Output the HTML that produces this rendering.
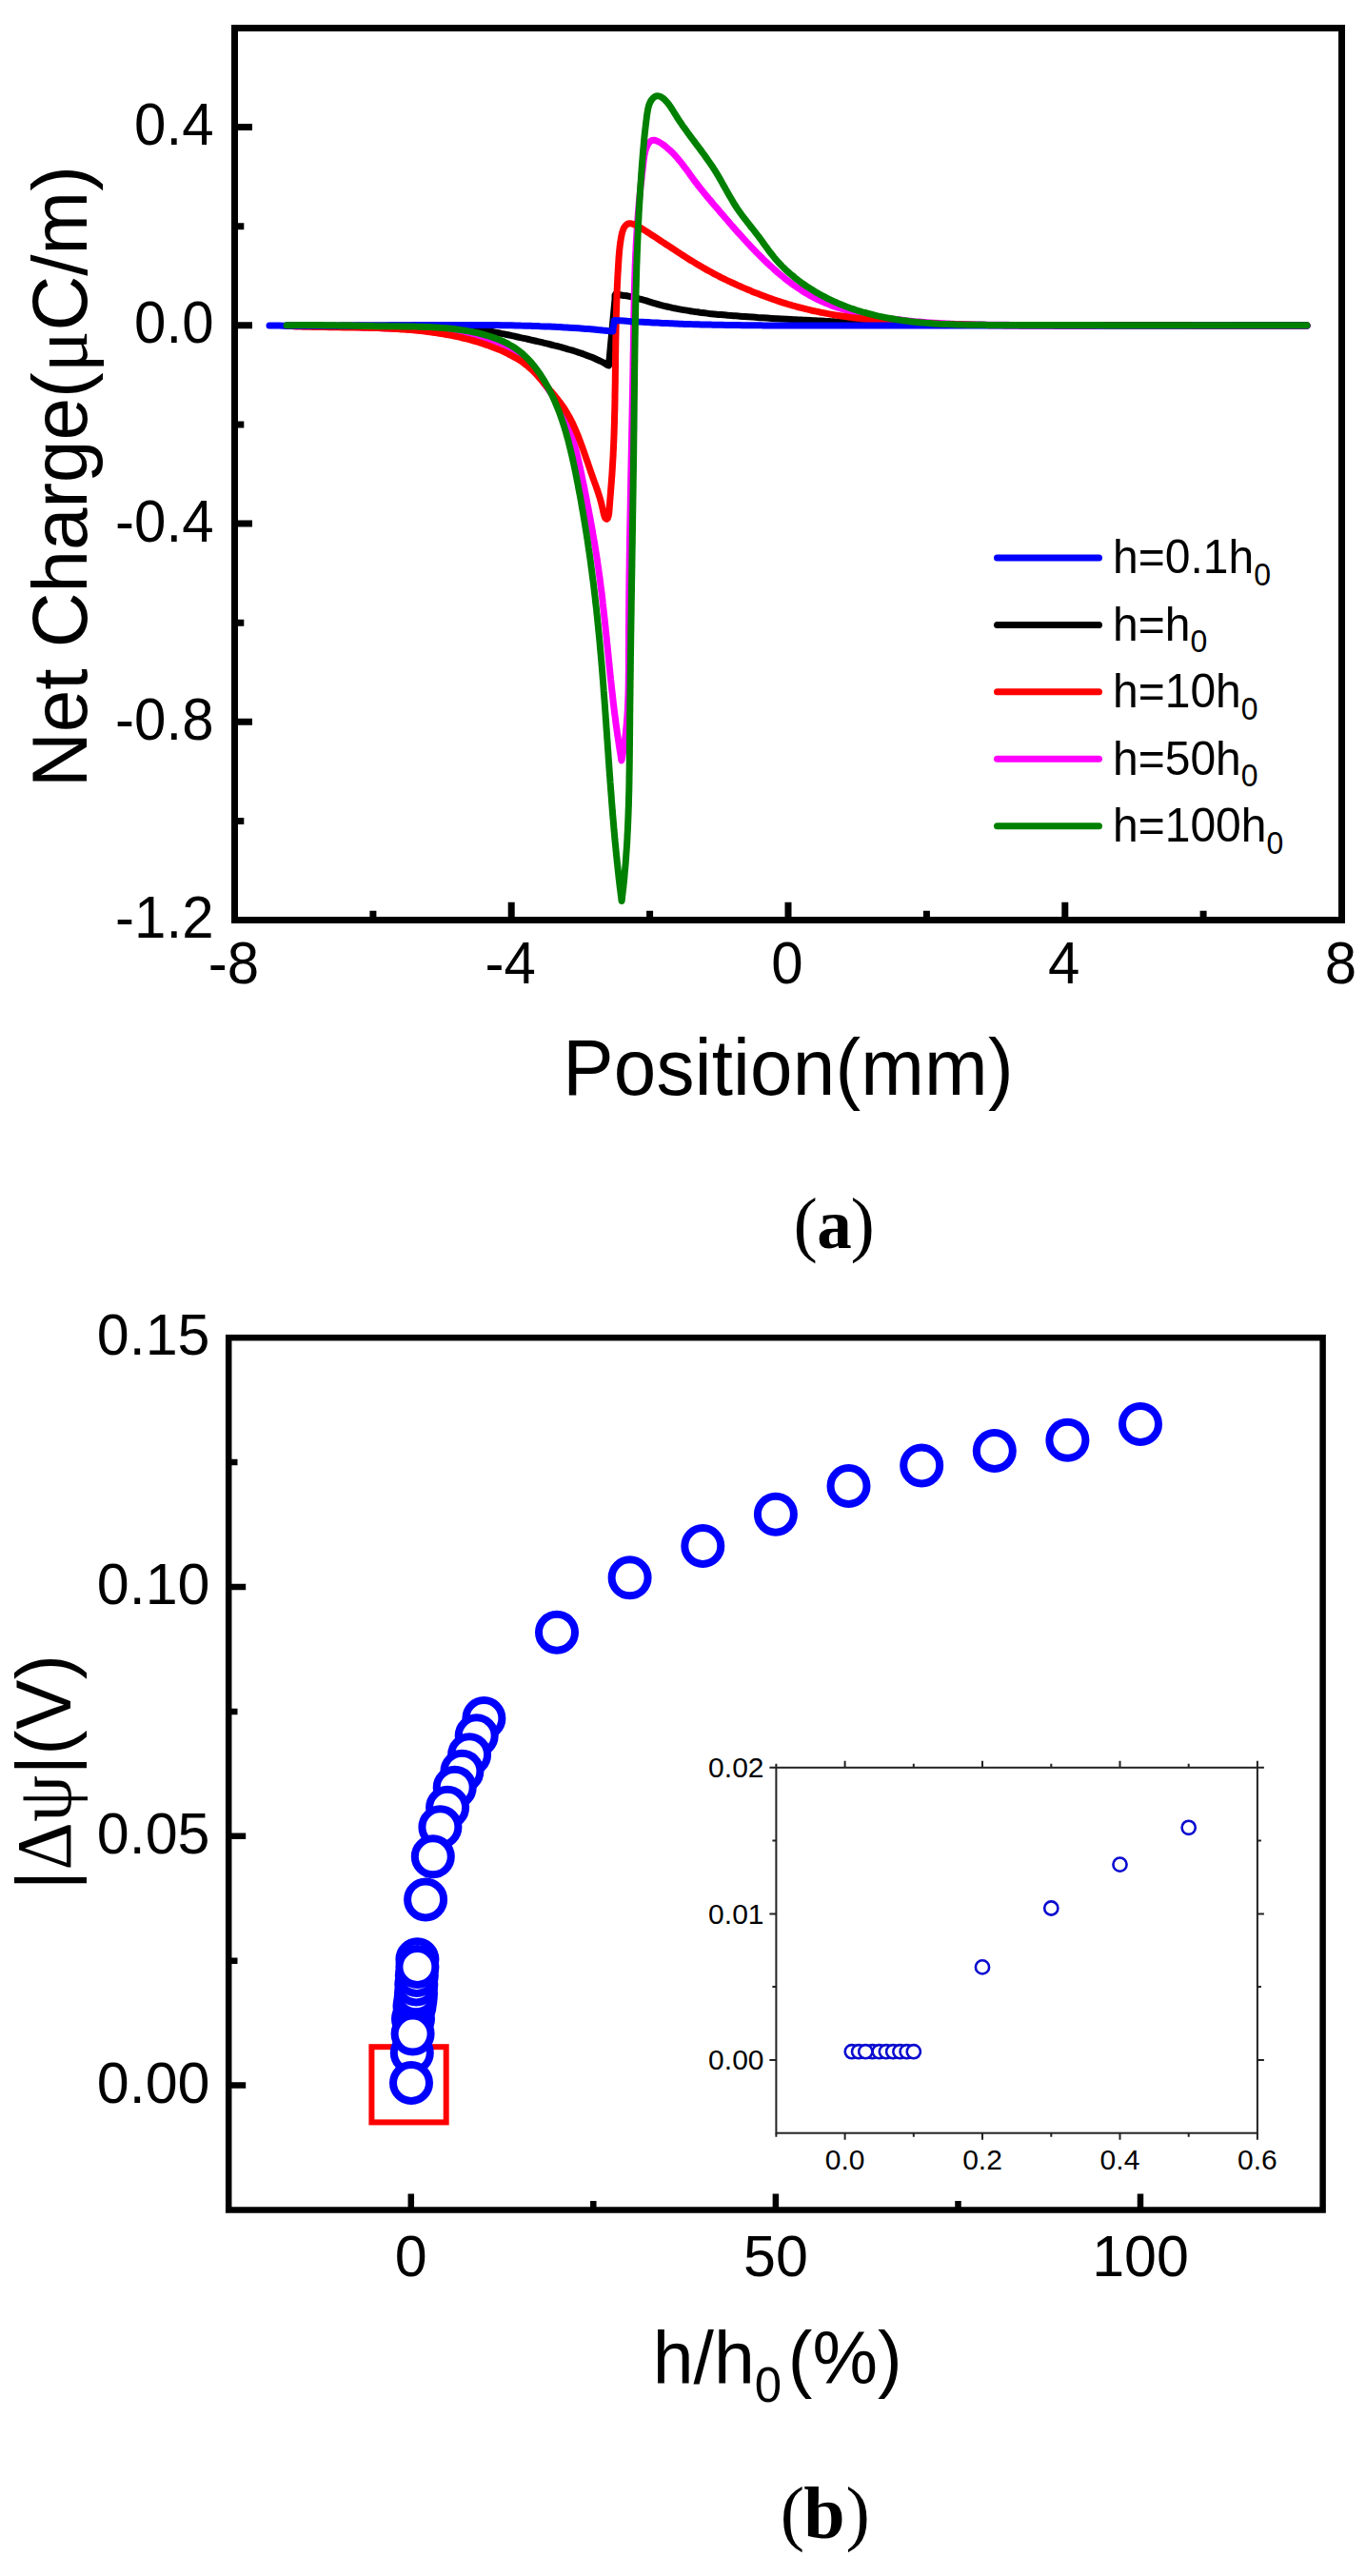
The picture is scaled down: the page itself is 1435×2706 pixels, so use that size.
<!DOCTYPE html>
<html><head><meta charset="utf-8"><title>Figure</title>
<style>html,body{margin:0;padding:0;background:#fff;overflow:hidden}svg{display:block}
</style></head>
<body>
<svg width="1435" height="2706" viewBox="0 0 1435 2706">
<rect x="0" y="0" width="1435" height="2706" fill="#fff"/>
<g fill="none" stroke-width="7" stroke-linejoin="round" stroke-linecap="round">
<path d="M301.0,342.0 C301.9,342.0 304.4,342.0 306.1,342.1 C307.9,342.1 309.6,342.1 311.3,342.1 C313.0,342.1 314.7,342.1 316.4,342.1 C318.1,342.1 319.8,342.2 321.6,342.2 C323.3,342.2 325.0,342.2 326.7,342.2 C328.4,342.2 330.1,342.2 331.8,342.2 C333.6,342.2 335.3,342.2 337.0,342.2 C338.7,342.2 340.4,342.2 342.1,342.2 C343.8,342.2 345.5,342.2 347.3,342.2 C349.0,342.2 350.7,342.2 352.4,342.2 C354.1,342.2 355.8,342.1 357.5,342.1 C359.3,342.1 361.0,342.1 362.7,342.1 C364.4,342.1 366.1,342.1 367.8,342.1 C369.5,342.1 371.3,342.1 373.0,342.1 C374.7,342.1 376.4,342.1 378.1,342.1 C379.8,342.0 381.5,342.0 383.3,342.0 C385.0,342.0 386.7,342.0 388.4,342.0 C390.1,342.0 391.8,342.0 393.6,342.0 C395.3,342.0 397.0,342.0 398.7,342.0 C400.4,342.0 402.1,342.0 403.8,342.0 C405.6,342.0 407.3,342.0 409.0,342.0 C410.7,342.0 412.4,342.0 414.1,342.0 C415.8,342.0 417.6,342.0 419.3,342.0 C421.0,342.0 422.7,342.0 424.4,342.0 C426.1,342.1 427.9,342.1 429.6,342.1 C431.3,342.1 433.0,342.1 434.7,342.1 C436.4,342.2 438.1,342.2 439.9,342.2 C441.6,342.2 443.3,342.3 445.0,342.3 C446.7,342.3 448.4,342.4 450.1,342.4 C451.9,342.5 453.6,342.5 455.3,342.6 C457.0,342.6 458.7,342.7 460.4,342.8 C462.1,342.8 463.8,342.9 465.5,343.0 C467.3,343.1 469.0,343.2 470.7,343.3 C472.4,343.4 474.1,343.5 475.8,343.6 C477.5,343.7 479.2,343.8 480.9,344.0 C482.6,344.1 484.3,344.3 486.0,344.4 C487.7,344.6 489.4,344.7 491.1,344.9 C492.8,345.1 494.5,345.3 496.2,345.5 C497.9,345.7 499.6,345.9 501.3,346.1 C503.0,346.4 504.7,346.6 506.4,346.8 C508.1,347.1 509.8,347.4 511.4,347.6 C513.1,347.9 514.8,348.2 516.5,348.5 C518.2,348.8 519.9,349.1 521.6,349.4 C523.2,349.7 524.9,350.0 526.6,350.4 C528.3,350.7 530.0,351.0 531.7,351.4 C533.3,351.7 535.0,352.0 536.7,352.4 C538.4,352.8 540.1,353.1 541.7,353.5 C543.4,353.8 545.1,354.2 546.8,354.6 C548.4,354.9 550.1,355.3 551.8,355.7 C553.5,356.1 555.1,356.4 556.8,356.8 C558.5,357.2 560.2,357.6 561.9,358.0 C563.5,358.4 565.2,358.7 566.9,359.1 C568.6,359.5 570.2,359.9 571.9,360.3 C573.6,360.7 575.2,361.1 576.9,361.5 C578.6,361.9 580.2,362.3 581.9,362.8 C583.6,363.2 585.2,363.6 586.9,364.0 C588.5,364.5 590.2,364.9 591.8,365.4 C593.5,365.8 595.1,366.3 596.8,366.8 C598.4,367.2 600.1,367.7 601.7,368.2 C603.3,368.7 605.0,369.2 606.6,369.8 C608.2,370.3 609.8,370.8 611.4,371.4 C613.0,372.0 614.7,372.6 616.2,373.2 C617.8,373.8 619.4,374.4 621.0,375.0 C622.6,375.7 624.2,376.3 625.7,377.0 C627.3,377.7 628.8,378.5 630.4,379.2 C631.9,379.9 633.4,380.7 635.0,381.5 C636.5,382.3 638.7,384.5 639.5,384.0 C640.3,383.5 639.8,380.4 640.0,378.6 C640.2,376.9 640.3,375.1 640.5,373.3 C640.7,371.5 640.8,369.7 641.0,367.9 C641.2,366.1 641.3,364.4 641.5,362.6 C641.7,360.8 641.8,359.0 642.0,357.2 C642.2,355.4 642.3,353.6 642.5,351.9 C642.7,350.1 642.8,348.3 643.0,346.5 C643.2,344.7 643.3,342.9 643.5,341.1 C643.7,339.4 643.8,337.6 644.0,335.8 C644.2,334.0 644.3,332.2 644.5,330.4 C644.7,328.6 644.8,326.9 645.0,325.1 C645.2,323.3 645.3,321.5 645.5,319.7 C645.7,317.9 645.8,316.1 646.0,314.4 C646.2,312.6 645.6,309.8 646.5,309.0 C647.4,308.2 649.8,309.5 651.5,309.8 C653.2,310.1 654.9,310.3 656.5,310.6 C658.2,310.8 659.8,311.1 661.5,311.4 C663.1,311.7 664.8,312.1 666.4,312.5 C668.0,312.9 669.7,313.3 671.3,313.8 C672.9,314.2 674.5,314.7 676.1,315.2 C677.8,315.6 679.4,316.2 681.0,316.6 C682.6,317.1 684.2,317.6 685.8,318.1 C687.4,318.6 689.1,319.1 690.7,319.5 C692.3,319.9 693.9,320.4 695.6,320.8 C697.2,321.2 698.8,321.6 700.5,322.0 C702.1,322.4 703.7,322.7 705.4,323.1 C707.0,323.5 708.7,323.8 710.3,324.1 C712.0,324.5 713.6,324.8 715.3,325.1 C716.9,325.4 718.6,325.7 720.2,325.9 C721.9,326.2 723.6,326.5 725.2,326.7 C726.9,327.0 728.5,327.2 730.2,327.5 C731.9,327.7 733.5,327.9 735.2,328.2 C736.9,328.4 738.6,328.6 740.2,328.8 C741.9,329.0 743.6,329.2 745.3,329.4 C746.9,329.5 748.6,329.7 750.3,329.9 C752.0,330.1 753.6,330.2 755.3,330.4 C757.0,330.5 758.7,330.7 760.4,330.8 C762.1,331.0 763.7,331.1 765.4,331.3 C767.1,331.4 768.8,331.5 770.5,331.7 C772.2,331.8 773.8,331.9 775.5,332.0 C777.2,332.2 778.9,332.3 780.6,332.4 C782.3,332.5 784.0,332.7 785.7,332.8 C787.3,332.9 789.0,333.0 790.7,333.1 C792.4,333.2 794.1,333.3 795.8,333.5 C797.5,333.6 799.1,333.7 800.8,333.8 C802.5,333.9 804.2,334.0 805.9,334.1 C807.6,334.2 809.3,334.3 810.9,334.4 C812.6,334.5 814.3,334.6 816.0,334.7 C817.7,334.8 819.4,334.9 821.1,335.0 C822.7,335.1 824.4,335.2 826.1,335.3 C827.8,335.4 829.5,335.5 831.2,335.6 C832.9,335.7 834.6,335.7 836.2,335.8 C837.9,335.9 839.6,336.0 841.3,336.1 C843.0,336.2 844.7,336.3 846.4,336.3 C848.0,336.4 849.7,336.5 851.4,336.6 C853.1,336.7 854.8,336.7 856.5,336.8 C858.2,336.9 859.9,337.0 861.5,337.0 C863.2,337.1 864.9,337.2 866.6,337.3 C868.3,337.3 870.0,337.4 871.7,337.5 C873.3,337.5 875.0,337.6 876.7,337.7 C878.4,337.7 880.1,337.8 881.8,337.9 C883.5,337.9 885.2,338.0 886.8,338.1 C888.5,338.1 890.2,338.2 891.9,338.2 C893.6,338.3 895.3,338.4 897.0,338.4 C898.7,338.5 900.3,338.5 902.0,338.6 C903.7,338.6 905.4,338.7 907.1,338.8 C908.8,338.8 910.5,338.9 912.2,338.9 C913.8,339.0 915.5,339.0 917.2,339.1 C918.9,339.1 920.6,339.2 922.3,339.2 C924.0,339.3 925.6,339.3 927.3,339.4 C929.0,339.4 930.7,339.4 932.4,339.5 C934.1,339.5 935.8,339.6 937.5,339.6 C939.1,339.7 940.8,339.7 942.5,339.8 C944.2,339.8 945.9,339.8 947.6,339.9 C949.3,339.9 951.0,339.9 952.6,340.0 C954.3,340.0 956.0,340.1 957.7,340.1 C959.4,340.1 961.1,340.2 962.8,340.2 C964.5,340.2 966.1,340.3 967.8,340.3 C969.5,340.3 971.2,340.4 972.9,340.4 C974.6,340.4 976.3,340.5 978.0,340.5 C979.6,340.5 981.3,340.6 983.0,340.6 C984.7,340.6 986.4,340.6 988.1,340.7 C989.8,340.7 991.5,340.7 993.2,340.8 C994.8,340.8 996.5,340.8 998.2,340.8 C999.9,340.9 1001.6,340.9 1003.3,340.9 C1005.0,340.9 1006.7,341.0 1008.3,341.0 C1010.0,341.0 1011.7,341.0 1013.4,341.1 C1015.1,341.1 1016.8,341.1 1018.5,341.1 C1020.2,341.1 1021.8,341.2 1023.5,341.2 C1025.2,341.2 1026.9,341.2 1028.6,341.2 C1030.3,341.3 1032.0,341.3 1033.7,341.3 C1035.3,341.3 1037.0,341.3 1038.7,341.4 C1040.4,341.4 1042.1,341.4 1043.8,341.4 C1045.5,341.4 1047.2,341.4 1048.9,341.5 C1050.5,341.5 1052.2,341.5 1053.9,341.5 C1055.6,341.5 1057.3,341.5 1059.0,341.6 C1060.7,341.6 1062.4,341.6 1064.0,341.6 C1065.7,341.6 1067.4,341.6 1069.1,341.6 C1070.8,341.6 1072.5,341.7 1074.2,341.7 C1075.9,341.7 1077.5,341.7 1079.2,341.7 C1080.9,341.7 1082.6,341.7 1084.3,341.7 C1086.0,341.7 1087.7,341.8 1089.4,341.8 C1091.1,341.8 1092.7,341.8 1094.4,341.8 C1096.1,341.8 1097.8,341.8 1099.5,341.8 C1101.2,341.8 1102.9,341.8 1104.6,341.8 C1106.2,341.9 1107.9,341.9 1109.6,341.9 C1111.3,341.9 1113.0,341.9 1114.7,341.9 C1116.4,341.9 1118.1,341.9 1119.8,341.9 C1121.4,341.9 1123.1,341.9 1124.8,341.9 C1126.5,341.9 1128.2,341.9 1129.9,341.9 C1131.6,341.9 1133.3,342.0 1135.0,342.0 C1136.6,342.0 1138.3,342.0 1140.0,342.0 C1141.7,342.0 1143.4,342.0 1145.1,342.0 C1146.8,342.0 1148.5,342.0 1150.1,342.0 C1151.8,342.0 1153.5,342.0 1155.2,342.0 C1156.9,342.0 1158.6,342.0 1160.3,342.0 C1162.0,342.0 1163.7,342.0 1165.3,342.0 C1167.0,342.0 1168.7,342.0 1170.4,342.0 C1172.1,342.0 1173.8,342.0 1175.5,342.0 C1177.2,342.0 1178.8,342.0 1180.5,342.0 C1182.2,342.0 1183.9,342.0 1185.6,342.0 C1187.3,342.0 1189.0,342.0 1190.7,342.0 C1192.4,342.0 1194.0,342.0 1195.7,342.0 C1197.4,342.0 1199.1,342.0 1200.8,342.0 C1202.5,342.0 1204.2,342.0 1205.9,342.0 C1207.6,342.0 1209.2,342.0 1210.9,342.0 C1212.6,342.0 1214.3,342.0 1216.0,342.0 C1217.7,342.0 1219.4,342.0 1221.1,342.0 C1222.7,342.0 1224.4,342.0 1226.1,342.0 C1227.8,342.0 1229.5,342.0 1231.2,342.0 C1232.9,342.0 1234.6,342.0 1236.3,342.0 C1237.9,342.0 1239.6,342.0 1241.3,342.0 C1243.0,342.0 1244.7,342.0 1246.4,342.0 C1248.1,342.0 1249.8,342.0 1251.4,342.0 C1253.1,342.0 1254.8,342.0 1256.5,342.0 C1258.2,342.0 1259.9,342.0 1261.6,342.0 C1263.3,342.0 1265.0,342.0 1266.6,342.0 C1268.3,342.0 1270.0,342.0 1271.7,342.0 C1273.4,342.0 1275.1,342.0 1276.8,342.0 C1278.5,342.0 1280.2,342.0 1281.8,342.0 C1283.5,342.0 1285.2,342.0 1286.9,342.0 C1288.6,342.0 1290.3,342.0 1292.0,342.0 C1293.7,341.9 1295.3,341.9 1297.0,341.9 C1298.7,341.9 1300.4,341.9 1302.1,341.9 C1303.8,341.9 1305.5,341.9 1307.2,341.9 C1308.9,341.9 1310.5,341.9 1312.2,341.9 C1313.9,341.9 1315.6,341.9 1317.3,341.9 C1319.0,341.9 1320.7,341.9 1322.4,341.9 C1324.0,341.9 1325.7,341.9 1327.4,341.9 C1329.1,341.9 1330.8,341.9 1332.5,341.9 C1334.2,341.9 1335.9,341.9 1337.6,341.9 C1339.2,341.9 1340.9,341.9 1342.6,342.0 C1344.3,342.0 1346.0,342.0 1347.7,342.0 C1349.4,342.0 1351.1,342.0 1352.7,342.0 C1354.4,342.0 1356.1,342.0 1357.8,342.0 C1359.5,342.0 1361.2,342.0 1362.9,342.0 C1364.6,342.0 1366.2,342.0 1367.9,342.0 C1369.6,342.0 1372.2,342.0 1373.0,342.0" stroke="#000000"/>
<path d="M301.0,342.2 C301.8,342.2 304.4,342.1 306.1,342.1 C307.8,342.1 309.4,342.1 311.1,342.0 C312.8,342.0 314.5,342.0 316.2,342.0 C317.9,342.0 319.6,342.0 321.3,342.1 C322.9,342.1 324.6,342.1 326.3,342.1 C328.0,342.1 329.7,342.2 331.4,342.2 C333.1,342.2 334.7,342.3 336.4,342.3 C338.1,342.3 339.8,342.4 341.5,342.4 C343.2,342.5 344.8,342.5 346.5,342.6 C348.2,342.6 349.9,342.7 351.6,342.8 C353.3,342.8 354.9,342.9 356.6,342.9 C358.3,343.0 360.0,343.1 361.7,343.1 C363.4,343.2 365.0,343.3 366.7,343.3 C368.4,343.4 370.1,343.5 371.8,343.5 C373.5,343.6 375.1,343.7 376.8,343.8 C378.5,343.8 380.2,343.9 381.9,344.0 C383.6,344.0 385.2,344.1 386.9,344.2 C388.6,344.2 390.3,344.3 392.0,344.3 C393.7,344.4 395.3,344.5 397.0,344.5 C398.7,344.6 400.4,344.6 402.1,344.7 C403.8,344.7 405.5,344.8 407.1,344.8 C408.8,344.9 410.5,344.9 412.2,345.0 C413.9,345.0 415.6,345.1 417.3,345.1 C418.9,345.2 420.6,345.2 422.3,345.2 C424.0,345.3 425.7,345.3 427.4,345.4 C429.1,345.4 430.8,345.5 432.4,345.6 C434.1,345.6 435.8,345.7 437.5,345.8 C439.2,345.8 440.9,345.9 442.6,346.0 C444.2,346.1 445.9,346.1 447.6,346.2 C449.3,346.3 451.0,346.4 452.7,346.5 C454.3,346.6 456.0,346.8 457.7,346.9 C459.4,347.0 461.1,347.2 462.8,347.3 C464.4,347.4 466.1,347.6 467.8,347.8 C469.5,347.9 471.1,348.1 472.8,348.3 C474.5,348.5 476.2,348.7 477.8,348.9 C479.5,349.1 481.2,349.4 482.9,349.6 C484.5,349.9 486.2,350.1 487.9,350.4 C489.5,350.7 491.2,351.0 492.9,351.3 C494.5,351.6 496.2,351.9 497.9,352.3 C499.5,352.6 501.2,353.0 502.9,353.4 C504.5,353.7 506.2,354.1 507.8,354.6 C509.5,355.0 511.1,355.4 512.7,355.9 C514.4,356.4 516.0,356.9 517.6,357.4 C519.2,358.0 520.8,358.5 522.4,359.1 C524.0,359.7 525.5,360.3 527.0,361.0 C528.6,361.7 530.1,362.4 531.6,363.1 C533.1,363.9 534.5,364.6 536.0,365.5 C537.4,366.3 538.8,367.2 540.2,368.1 C541.6,369.0 542.9,369.9 544.2,370.9 C545.5,372.0 546.8,373.0 548.0,374.1 C549.3,375.2 550.5,376.4 551.6,377.6 C552.8,378.8 553.9,380.1 555.0,381.4 C556.1,382.7 557.1,384.1 558.2,385.4 C559.2,386.8 560.2,388.2 561.3,389.5 C562.3,390.9 563.4,392.2 564.4,393.6 C565.5,394.9 566.6,396.3 567.6,397.6 C568.7,398.9 569.7,400.3 570.7,401.6 C571.7,403.0 572.8,404.3 573.8,405.7 C574.8,407.1 575.7,408.5 576.7,409.8 C577.6,411.2 578.6,412.6 579.5,414.0 C580.4,415.5 581.3,416.9 582.2,418.3 C583.0,419.7 583.9,421.2 584.7,422.6 C585.6,424.1 586.4,425.5 587.2,427.0 C588.0,428.5 588.8,430.0 589.5,431.4 C590.3,432.9 591.0,434.4 591.7,435.9 C592.5,437.4 593.2,439.0 593.8,440.5 C594.5,442.0 595.2,443.6 595.8,445.1 C596.5,446.6 597.1,448.2 597.7,449.8 C598.3,451.3 598.9,452.9 599.4,454.5 C600.0,456.0 600.5,457.6 601.0,459.2 C601.6,460.8 602.1,462.4 602.6,464.0 C603.0,465.6 603.5,467.3 604.0,468.9 C604.4,470.5 604.8,472.2 605.3,473.8 C605.7,475.4 606.1,477.1 606.5,478.7 C606.9,480.4 607.3,482.0 607.7,483.7 C608.1,485.3 608.4,487.0 608.8,488.6 C609.2,490.3 609.5,491.9 609.9,493.6 C610.2,495.3 610.6,496.9 610.9,498.6 C611.3,500.3 611.6,501.9 611.9,503.6 C612.3,505.2 612.6,506.9 613.0,508.6 C613.3,510.2 613.6,511.9 614.0,513.5 C614.3,515.2 614.6,516.9 615.0,518.5 C615.3,520.2 615.6,521.8 616.0,523.5 C616.3,525.1 616.6,526.8 616.9,528.5 C617.2,530.1 617.6,531.8 617.9,533.4 C618.2,535.1 618.5,536.7 618.8,538.4 C619.1,540.1 619.5,541.7 619.8,543.4 C620.1,545.0 620.4,546.7 620.7,548.4 C621.0,550.0 621.3,551.7 621.6,553.3 C621.9,555.0 622.2,556.6 622.4,558.3 C622.7,560.0 623.0,561.6 623.3,563.3 C623.6,564.9 623.9,566.6 624.2,568.3 C624.4,569.9 624.7,571.6 625.0,573.2 C625.2,574.9 625.5,576.6 625.8,578.2 C626.0,579.9 626.3,581.5 626.6,583.2 C626.8,584.9 627.1,586.5 627.3,588.2 C627.6,589.8 627.8,591.5 628.1,593.2 C628.3,594.8 628.6,596.5 628.8,598.2 C629.0,599.8 629.3,601.5 629.5,603.2 C629.7,604.8 629.9,606.5 630.2,608.2 C630.4,609.8 630.6,611.5 630.8,613.2 C631.0,614.9 631.2,616.5 631.4,618.2 C631.7,619.9 631.9,621.5 632.1,623.2 C632.3,624.9 632.5,626.6 632.7,628.2 C632.9,629.9 633.1,631.6 633.2,633.3 C633.4,634.9 633.6,636.6 633.8,638.3 C634.0,640.0 634.2,641.6 634.4,643.3 C634.6,645.0 634.7,646.7 634.9,648.3 C635.1,650.0 635.3,651.7 635.5,653.4 C635.6,655.0 635.8,656.7 636.0,658.4 C636.2,660.1 636.3,661.8 636.5,663.4 C636.7,665.1 636.9,666.8 637.0,668.5 C637.2,670.1 637.4,671.8 637.5,673.5 C637.7,675.2 637.9,676.9 638.0,678.5 C638.2,680.2 638.4,681.9 638.6,683.6 C638.7,685.3 638.9,686.9 639.1,688.6 C639.2,690.3 639.4,692.0 639.6,693.7 C639.7,695.3 639.9,697.0 640.1,698.7 C640.2,700.4 640.4,702.1 640.6,703.7 C640.8,705.4 640.9,707.1 641.1,708.8 C641.3,710.4 641.5,712.1 641.6,713.8 C641.8,715.5 642.0,717.2 642.2,718.8 C642.4,720.5 642.5,722.2 642.7,723.9 C642.9,725.6 643.1,727.2 643.3,728.9 C643.5,730.6 643.7,732.3 643.8,733.9 C644.0,735.6 644.2,737.3 644.4,739.0 C644.6,740.6 644.8,742.3 645.0,744.0 C645.2,745.7 645.4,747.3 645.6,749.0 C645.8,750.7 646.1,752.4 646.3,754.0 C646.5,755.7 646.7,757.4 646.9,759.0 C647.1,760.7 647.4,762.4 647.6,764.0 C647.8,765.7 648.1,767.4 648.3,769.1 C648.5,770.7 648.8,772.4 649.0,774.1 C649.3,775.7 649.5,777.4 649.8,779.1 C650.0,780.7 650.3,782.4 650.5,784.0 C650.8,785.7 651.0,787.4 651.3,789.0 C651.6,790.7 651.9,792.4 652.1,794.0 C652.4,795.7 652.7,799.0 653.0,799.0 C653.3,799.0 653.6,795.7 653.9,794.1 C654.2,792.4 654.5,790.8 654.8,789.1 C655.1,787.5 655.3,785.8 655.6,784.2 C655.8,782.5 656.0,780.9 656.2,779.2 C656.5,777.5 656.7,775.9 656.9,774.2 C657.1,772.6 657.3,770.9 657.4,769.3 C657.6,767.6 657.8,765.9 657.9,764.3 C658.1,762.6 658.2,760.9 658.4,759.3 C658.5,757.6 658.6,755.9 658.8,754.3 C658.9,752.6 659.0,750.9 659.1,749.3 C659.2,747.6 659.3,745.9 659.4,744.3 C659.5,742.6 659.5,740.9 659.6,739.2 C659.7,737.6 659.8,735.9 659.8,734.2 C659.9,732.5 659.9,730.9 660.0,729.2 C660.0,727.5 660.1,725.8 660.1,724.2 C660.2,722.5 660.2,720.8 660.2,719.1 C660.2,717.5 660.3,715.8 660.3,714.1 C660.3,712.4 660.3,710.8 660.3,709.1 C660.4,707.4 660.4,705.7 660.4,704.0 C660.4,702.4 660.4,700.7 660.4,699.0 C660.4,697.3 660.4,695.6 660.4,694.0 C660.4,692.3 660.4,690.6 660.4,688.9 C660.4,687.2 660.4,685.6 660.4,683.9 C660.4,682.2 660.5,680.5 660.5,678.8 C660.5,677.2 660.5,675.5 660.5,673.8 C660.5,672.1 660.5,670.5 660.5,668.8 C660.5,667.1 660.5,665.4 660.5,663.7 C660.5,662.1 660.5,660.4 660.5,658.7 C660.5,657.0 660.5,655.4 660.6,653.7 C660.6,652.0 660.6,650.3 660.6,648.6 C660.6,647.0 660.6,645.3 660.6,643.6 C660.6,641.9 660.7,640.3 660.7,638.6 C660.7,636.9 660.7,635.2 660.7,633.6 C660.7,631.9 660.7,630.2 660.8,628.5 C660.8,626.9 660.8,625.2 660.8,623.5 C660.8,621.8 660.8,620.1 660.9,618.5 C660.9,616.8 660.9,615.1 660.9,613.4 C660.9,611.8 661.0,610.1 661.0,608.4 C661.0,606.7 661.0,605.1 661.0,603.4 C661.1,601.7 661.1,600.0 661.1,598.4 C661.1,596.7 661.2,595.0 661.2,593.3 C661.2,591.7 661.2,590.0 661.2,588.3 C661.3,586.7 661.3,585.0 661.3,583.3 C661.3,581.6 661.4,580.0 661.4,578.3 C661.4,576.6 661.4,574.9 661.5,573.3 C661.5,571.6 661.5,569.9 661.5,568.2 C661.6,566.6 661.6,564.9 661.6,563.2 C661.7,561.5 661.7,559.9 661.7,558.2 C661.7,556.5 661.8,554.8 661.8,553.2 C661.8,551.5 661.9,549.8 661.9,548.2 C661.9,546.5 661.9,544.8 662.0,543.1 C662.0,541.5 662.0,539.8 662.1,538.1 C662.1,536.4 662.1,534.8 662.2,533.1 C662.2,531.4 662.2,529.7 662.3,528.1 C662.3,526.4 662.3,524.7 662.3,523.1 C662.4,521.4 662.4,519.7 662.4,518.0 C662.5,516.4 662.5,514.7 662.5,513.0 C662.6,511.3 662.6,509.7 662.6,508.0 C662.7,506.3 662.7,504.6 662.7,503.0 C662.8,501.3 662.8,499.6 662.8,498.0 C662.9,496.3 662.9,494.6 662.9,492.9 C663.0,491.3 663.0,489.6 663.0,487.9 C663.1,486.2 663.1,484.6 663.1,482.9 C663.2,481.2 663.2,479.5 663.2,477.9 C663.3,476.2 663.3,474.5 663.3,472.9 C663.4,471.2 663.4,469.5 663.4,467.8 C663.5,466.2 663.5,464.5 663.5,462.8 C663.6,461.1 663.6,459.5 663.6,457.8 C663.7,456.1 663.7,454.4 663.7,452.8 C663.8,451.1 663.8,449.4 663.8,447.7 C663.9,446.1 663.9,444.4 663.9,442.7 C664.0,441.0 664.0,439.4 664.0,437.7 C664.1,436.0 664.1,434.3 664.1,432.7 C664.2,431.0 664.2,429.3 664.2,427.6 C664.3,426.0 664.3,424.3 664.3,422.6 C664.3,420.9 664.4,419.3 664.4,417.6 C664.4,415.9 664.5,414.2 664.5,412.6 C664.5,410.9 664.6,409.2 664.6,407.5 C664.6,405.9 664.7,404.2 664.7,402.5 C664.7,400.8 664.7,399.2 664.8,397.5 C664.8,395.8 664.8,394.1 664.9,392.5 C664.9,390.8 664.9,389.1 665.0,387.4 C665.0,385.7 665.0,384.1 665.0,382.4 C665.1,380.7 665.1,379.0 665.1,377.4 C665.1,375.7 665.2,374.0 665.2,372.3 C665.2,370.6 665.3,369.0 665.3,367.3 C665.3,365.6 665.3,363.9 665.4,362.3 C665.4,360.6 665.4,358.9 665.4,357.2 C665.5,355.5 665.5,353.9 665.5,352.2 C665.5,350.5 665.6,348.8 665.6,347.1 C665.6,345.5 665.6,343.8 665.7,342.1 C665.7,340.4 665.7,338.7 665.8,337.1 C665.8,335.4 665.8,333.7 665.8,332.0 C665.9,330.4 665.9,328.7 665.9,327.0 C666.0,325.3 666.0,323.6 666.0,322.0 C666.1,320.3 666.1,318.6 666.1,316.9 C666.2,315.2 666.2,313.6 666.2,311.9 C666.3,310.2 666.3,308.5 666.4,306.9 C666.4,305.2 666.4,303.5 666.5,301.8 C666.5,300.2 666.6,298.5 666.6,296.8 C666.7,295.1 666.7,293.5 666.8,291.8 C666.8,290.1 666.9,288.4 666.9,286.8 C667.0,285.1 667.1,283.4 667.1,281.7 C667.2,280.1 667.2,278.4 667.3,276.7 C667.4,275.0 667.4,273.4 667.5,271.7 C667.6,270.0 667.7,268.3 667.7,266.7 C667.8,265.0 667.9,263.3 668.0,261.7 C668.0,260.0 668.1,258.3 668.2,256.7 C668.3,255.0 668.4,253.3 668.5,251.6 C668.6,250.0 668.7,248.3 668.8,246.6 C668.9,245.0 669.0,243.3 669.1,241.6 C669.2,240.0 669.3,238.3 669.4,236.7 C669.5,235.0 669.7,233.3 669.8,231.7 C669.9,230.0 670.0,228.3 670.2,226.7 C670.3,225.0 670.4,223.4 670.6,221.7 C670.7,220.0 670.8,218.4 671.0,216.7 C671.1,215.1 671.3,213.4 671.4,211.8 C671.6,210.1 671.8,208.4 671.9,206.8 C672.1,205.1 672.2,203.5 672.4,201.8 C672.6,200.2 672.8,198.5 672.9,196.9 C673.1,195.2 673.3,193.5 673.5,191.9 C673.7,190.2 673.9,188.5 674.1,186.9 C674.2,185.2 674.4,183.5 674.6,181.8 C674.8,180.1 675.0,178.5 675.2,176.8 C675.4,175.1 675.6,173.4 675.8,171.6 C676.0,169.9 676.2,168.2 676.5,166.5 C676.7,164.8 676.9,163.0 677.3,161.4 C677.6,159.7 678.0,158.0 678.6,156.4 C679.2,154.8 679.8,153.1 680.7,151.7 C681.6,150.3 682.6,148.8 683.8,148.1 C684.9,147.3 686.3,147.2 687.6,147.3 C689.0,147.5 690.5,148.2 691.9,148.9 C693.4,149.6 694.9,150.7 696.3,151.7 C697.7,152.6 699.0,153.7 700.3,154.8 C701.6,155.9 702.9,157.0 704.1,158.1 C705.4,159.3 706.6,160.5 707.7,161.7 C708.9,162.9 710.0,164.2 711.1,165.4 C712.2,166.7 713.3,168.0 714.3,169.3 C715.4,170.6 716.4,171.9 717.5,173.3 C718.5,174.6 719.5,176.0 720.5,177.3 C721.5,178.7 722.5,180.1 723.5,181.4 C724.5,182.8 725.4,184.2 726.4,185.5 C727.4,186.9 728.4,188.3 729.4,189.6 C730.4,191.0 731.5,192.3 732.5,193.6 C733.5,195.0 734.6,196.3 735.6,197.6 C736.6,198.9 737.7,200.3 738.8,201.6 C739.8,202.9 740.9,204.2 742.0,205.5 C743.0,206.8 744.1,208.1 745.2,209.3 C746.3,210.6 747.3,211.9 748.4,213.2 C749.5,214.5 750.6,215.7 751.7,217.0 C752.8,218.3 753.9,219.5 755.0,220.8 C756.0,222.1 757.1,223.4 758.2,224.6 C759.3,225.9 760.4,227.2 761.5,228.4 C762.6,229.7 763.7,230.9 764.8,232.2 C765.8,233.5 766.9,234.7 768.0,236.0 C769.1,237.2 770.2,238.5 771.3,239.7 C772.4,241.0 773.5,242.2 774.6,243.5 C775.7,244.7 776.8,245.9 778.0,247.2 C779.1,248.4 780.2,249.7 781.3,250.9 C782.4,252.1 783.6,253.3 784.7,254.6 C785.8,255.8 787.0,257.0 788.1,258.2 C789.3,259.4 790.4,260.6 791.6,261.9 C792.7,263.1 793.9,264.3 795.1,265.5 C796.2,266.7 797.4,267.8 798.6,269.0 C799.8,270.2 801.0,271.4 802.2,272.6 C803.4,273.8 804.6,274.9 805.9,276.1 C807.1,277.2 808.3,278.4 809.6,279.5 C810.8,280.7 812.1,281.8 813.3,283.0 C814.6,284.1 815.9,285.2 817.1,286.3 C818.4,287.4 819.7,288.5 821.0,289.6 C822.3,290.6 823.6,291.7 824.9,292.8 C826.3,293.8 827.6,294.8 828.9,295.9 C830.3,296.9 831.6,297.9 833.0,298.9 C834.3,299.9 835.7,300.8 837.1,301.8 C838.5,302.7 839.9,303.7 841.3,304.6 C842.7,305.5 844.1,306.4 845.5,307.3 C847.0,308.1 848.4,309.0 849.8,309.8 C851.3,310.6 852.7,311.4 854.2,312.2 C855.7,313.0 857.2,313.7 858.7,314.5 C860.2,315.2 861.7,315.9 863.2,316.6 C864.7,317.3 866.2,317.9 867.8,318.6 C869.3,319.2 870.8,319.8 872.4,320.4 C873.9,321.0 875.5,321.5 877.1,322.1 C878.7,322.6 880.2,323.1 881.8,323.7 C883.4,324.2 885.0,324.6 886.6,325.1 C888.2,325.6 889.8,326.0 891.5,326.5 C893.1,326.9 894.7,327.3 896.3,327.7 C898.0,328.1 899.6,328.5 901.2,328.9 C902.9,329.2 904.5,329.6 906.2,329.9 C907.8,330.3 909.5,330.6 911.1,330.9 C912.8,331.2 914.4,331.5 916.1,331.8 C917.7,332.1 919.4,332.4 921.1,332.7 C922.7,332.9 924.4,333.2 926.0,333.5 C927.7,333.7 929.4,334.0 931.0,334.2 C932.7,334.4 934.4,334.7 936.0,334.9 C937.7,335.1 939.4,335.3 941.0,335.5 C942.7,335.7 944.4,335.9 946.0,336.1 C947.7,336.3 949.4,336.5 951.0,336.7 C952.7,336.9 954.4,337.0 956.0,337.2 C957.7,337.4 959.4,337.5 961.0,337.7 C962.7,337.8 964.4,338.0 966.0,338.1 C967.7,338.3 969.4,338.4 971.0,338.5 C972.7,338.6 974.4,338.8 976.0,338.9 C977.7,339.0 979.4,339.1 981.1,339.2 C982.7,339.3 984.4,339.4 986.1,339.5 C987.7,339.6 989.4,339.7 991.1,339.8 C992.8,339.9 994.4,340.0 996.1,340.0 C997.8,340.1 999.4,340.2 1001.1,340.2 C1002.8,340.3 1004.5,340.4 1006.1,340.4 C1007.8,340.5 1009.5,340.6 1011.2,340.6 C1012.8,340.7 1014.5,340.7 1016.2,340.8 C1017.8,340.8 1019.5,340.8 1021.2,340.9 C1022.9,340.9 1024.5,341.0 1026.2,341.0 C1027.9,341.0 1029.6,341.0 1031.2,341.1 C1032.9,341.1 1034.6,341.1 1036.3,341.2 C1037.9,341.2 1039.6,341.2 1041.3,341.2 C1043.0,341.2 1044.6,341.3 1046.3,341.3 C1048.0,341.3 1049.7,341.3 1051.3,341.3 C1053.0,341.3 1054.7,341.3 1056.4,341.3 C1058.0,341.3 1059.7,341.4 1061.4,341.4 C1063.1,341.4 1064.7,341.4 1066.4,341.4 C1068.1,341.4 1069.8,341.4 1071.4,341.4 C1073.1,341.4 1074.8,341.4 1076.5,341.4 C1078.1,341.4 1079.8,341.4 1081.5,341.4 C1083.2,341.4 1084.8,341.4 1086.5,341.4 C1088.2,341.4 1089.9,341.4 1091.5,341.5 C1093.2,341.5 1094.9,341.5 1096.6,341.5 C1098.2,341.5 1099.9,341.5 1101.6,341.5 C1103.3,341.5 1104.9,341.5 1106.6,341.5 C1108.3,341.5 1110.0,341.5 1111.7,341.5 C1113.3,341.5 1115.0,341.5 1116.7,341.5 C1118.4,341.5 1120.0,341.5 1121.7,341.5 C1123.4,341.5 1125.1,341.5 1126.7,341.5 C1128.4,341.5 1130.1,341.5 1131.8,341.5 C1133.4,341.6 1135.1,341.6 1136.8,341.6 C1138.5,341.6 1140.1,341.6 1141.8,341.6 C1143.5,341.6 1145.2,341.6 1146.8,341.6 C1148.5,341.6 1150.2,341.6 1151.9,341.6 C1153.5,341.6 1155.2,341.6 1156.9,341.6 C1158.6,341.6 1160.2,341.6 1161.9,341.6 C1163.6,341.6 1165.3,341.6 1166.9,341.6 C1168.6,341.6 1170.3,341.6 1172.0,341.6 C1173.6,341.6 1175.3,341.6 1177.0,341.6 C1178.7,341.6 1180.3,341.6 1182.0,341.7 C1183.7,341.7 1185.4,341.7 1187.0,341.7 C1188.7,341.7 1190.4,341.7 1192.1,341.7 C1193.7,341.7 1195.4,341.7 1197.1,341.7 C1198.8,341.7 1200.4,341.7 1202.1,341.7 C1203.8,341.7 1205.5,341.7 1207.1,341.7 C1208.8,341.7 1210.5,341.7 1212.2,341.7 C1213.8,341.7 1215.5,341.7 1217.2,341.7 C1218.9,341.7 1220.5,341.7 1222.2,341.7 C1223.9,341.7 1225.6,341.7 1227.3,341.7 C1228.9,341.7 1230.6,341.7 1232.3,341.7 C1234.0,341.7 1235.6,341.8 1237.3,341.8 C1239.0,341.8 1240.7,341.8 1242.3,341.8 C1244.0,341.8 1245.7,341.8 1247.4,341.8 C1249.0,341.8 1250.7,341.8 1252.4,341.8 C1254.1,341.8 1255.7,341.8 1257.4,341.8 C1259.1,341.8 1260.8,341.8 1262.4,341.8 C1264.1,341.8 1265.8,341.8 1267.5,341.8 C1269.1,341.8 1270.8,341.8 1272.5,341.8 C1274.2,341.8 1275.8,341.8 1277.5,341.8 C1279.2,341.8 1280.9,341.8 1282.5,341.8 C1284.2,341.8 1285.9,341.8 1287.6,341.8 C1289.2,341.8 1290.9,341.8 1292.6,341.9 C1294.3,341.9 1295.9,341.9 1297.6,341.9 C1299.3,341.9 1301.0,341.9 1302.6,341.9 C1304.3,341.9 1306.0,341.9 1307.7,341.9 C1309.3,341.9 1311.0,341.9 1312.7,341.9 C1314.4,341.9 1316.0,341.9 1317.7,341.9 C1319.4,341.9 1321.1,341.9 1322.7,341.9 C1324.4,341.9 1326.1,341.9 1327.8,341.9 C1329.4,341.9 1331.1,341.9 1332.8,341.9 C1334.5,341.9 1336.1,341.9 1337.8,341.9 C1339.5,341.9 1341.2,341.9 1342.8,341.9 C1344.5,341.9 1346.2,341.9 1347.9,342.0 C1349.5,342.0 1351.2,342.0 1352.9,342.0 C1354.6,342.0 1356.2,342.0 1357.9,342.0 C1359.6,342.0 1361.3,342.0 1362.9,342.0 C1364.6,342.0 1366.3,342.0 1368.0,342.0 C1369.6,342.0 1372.2,342.0 1373.0,342.0" stroke="#ff00ff"/>
<path d="M301.0,342.4 C301.8,342.4 304.3,342.6 306.0,342.6 C307.6,342.7 309.3,342.8 311.0,342.9 C312.6,342.9 314.3,343.0 315.9,343.0 C317.6,343.1 319.3,343.2 320.9,343.2 C322.6,343.3 324.3,343.3 325.9,343.3 C327.6,343.4 329.3,343.4 331.0,343.5 C332.6,343.5 334.3,343.5 336.0,343.6 C337.7,343.6 339.3,343.6 341.0,343.6 C342.7,343.7 344.4,343.7 346.1,343.7 C347.7,343.7 349.4,343.8 351.1,343.8 C352.8,343.8 354.5,343.8 356.1,343.8 C357.8,343.9 359.5,343.9 361.2,343.9 C362.9,343.9 364.5,344.0 366.2,344.0 C367.9,344.0 369.6,344.0 371.3,344.1 C373.0,344.1 374.6,344.1 376.3,344.1 C378.0,344.2 379.7,344.2 381.4,344.2 C383.1,344.3 384.7,344.3 386.4,344.3 C388.1,344.4 389.8,344.4 391.5,344.5 C393.2,344.5 394.8,344.6 396.5,344.6 C398.2,344.7 399.9,344.8 401.6,344.8 C403.2,344.9 404.9,344.9 406.6,345.0 C408.3,345.1 410.0,345.2 411.6,345.3 C413.3,345.4 415.0,345.4 416.7,345.5 C418.3,345.6 420.0,345.7 421.7,345.9 C423.4,346.0 425.0,346.1 426.7,346.2 C428.4,346.3 430.0,346.5 431.7,346.6 C433.4,346.8 435.0,346.9 436.7,347.1 C438.4,347.2 440.0,347.4 441.7,347.6 C443.4,347.8 445.0,347.9 446.7,348.1 C448.3,348.3 450.0,348.5 451.6,348.8 C453.3,349.0 455.0,349.2 456.6,349.4 C458.3,349.7 459.9,349.9 461.6,350.2 C463.2,350.4 464.8,350.7 466.5,351.0 C468.1,351.3 469.8,351.6 471.4,351.9 C473.0,352.2 474.7,352.5 476.3,352.8 C477.9,353.2 479.6,353.5 481.2,353.9 C482.8,354.2 484.4,354.6 486.1,355.0 C487.7,355.4 489.3,355.8 490.9,356.2 C492.5,356.6 494.1,357.0 495.7,357.5 C497.4,357.9 499.0,358.4 500.6,358.9 C502.2,359.3 503.8,359.8 505.4,360.3 C507.0,360.8 508.5,361.4 510.1,361.9 C511.7,362.5 513.3,363.0 514.9,363.6 C516.5,364.2 518.1,364.8 519.6,365.4 C521.2,366.0 522.8,366.6 524.3,367.3 C525.9,367.9 527.4,368.6 529.0,369.3 C530.5,370.0 532.0,370.7 533.5,371.5 C535.0,372.2 536.5,373.0 538.0,373.8 C539.5,374.6 540.9,375.4 542.4,376.3 C543.8,377.1 545.2,378.0 546.6,378.9 C548.0,379.8 549.4,380.8 550.7,381.8 C552.0,382.7 553.3,383.8 554.6,384.8 C555.9,385.9 557.2,387.0 558.4,388.1 C559.6,389.2 560.8,390.4 561.9,391.6 C563.1,392.8 564.2,394.0 565.3,395.3 C566.4,396.5 567.5,397.8 568.6,399.1 C569.7,400.4 570.8,401.7 571.9,403.0 C572.9,404.2 574.0,405.5 575.1,406.8 C576.2,408.1 577.3,409.4 578.4,410.7 C579.5,411.9 580.6,413.2 581.7,414.5 C582.7,415.8 583.8,417.1 584.9,418.4 C585.9,419.7 587.0,421.0 588.0,422.3 C589.0,423.7 590.0,425.0 590.9,426.4 C591.9,427.8 592.8,429.1 593.7,430.5 C594.6,432.0 595.4,433.4 596.3,434.8 C597.1,436.3 597.9,437.7 598.7,439.2 C599.5,440.7 600.2,442.1 601.0,443.6 C601.7,445.1 602.4,446.6 603.1,448.2 C603.8,449.7 604.5,451.2 605.2,452.8 C605.8,454.3 606.5,455.9 607.1,457.4 C607.7,459.0 608.3,460.6 608.9,462.1 C609.6,463.7 610.1,465.3 610.7,466.9 C611.3,468.5 611.9,470.1 612.4,471.7 C613.0,473.2 613.6,474.8 614.1,476.4 C614.7,478.0 615.2,479.6 615.7,481.2 C616.3,482.8 616.8,484.4 617.4,486.0 C617.9,487.6 618.4,489.2 619.0,490.8 C619.5,492.4 620.1,494.0 620.6,495.6 C621.2,497.2 621.7,498.7 622.3,500.3 C622.8,501.9 623.4,503.4 624.0,505.0 C624.5,506.5 625.1,508.1 625.7,509.7 C626.2,511.2 626.8,512.8 627.3,514.3 C627.9,515.9 628.4,517.5 628.9,519.1 C629.4,520.6 629.9,522.2 630.4,523.8 C630.8,525.4 631.3,527.1 631.7,528.7 C632.1,530.3 632.5,532.0 632.9,533.7 C633.3,535.4 633.6,537.1 634.0,538.8 C634.5,540.5 635.0,542.9 635.6,543.9 C636.3,545.0 637.2,545.6 637.8,545.2 C638.5,544.7 639.1,542.8 639.4,541.3 C639.8,539.8 639.9,537.8 640.0,536.1 C640.2,534.3 640.3,532.5 640.4,530.7 C640.6,529.0 640.7,527.2 640.8,525.5 C641.0,523.8 641.1,522.1 641.2,520.3 C641.4,518.6 641.5,516.9 641.6,515.3 C641.8,513.6 641.9,511.9 642.0,510.2 C642.2,508.6 642.3,506.9 642.4,505.2 C642.5,503.6 642.6,501.9 642.8,500.3 C642.9,498.6 643.0,496.9 643.1,495.3 C643.2,493.6 643.3,492.0 643.4,490.3 C643.5,488.7 643.6,487.0 643.7,485.3 C643.8,483.7 643.9,482.0 644.0,480.4 C644.1,478.7 644.2,477.0 644.2,475.4 C644.3,473.7 644.4,472.1 644.5,470.4 C644.5,468.7 644.6,467.1 644.7,465.4 C644.8,463.7 644.8,462.1 644.9,460.4 C644.9,458.7 645.0,457.1 645.1,455.4 C645.1,453.7 645.2,452.1 645.2,450.4 C645.3,448.7 645.3,447.0 645.4,445.4 C645.4,443.7 645.5,442.0 645.5,440.4 C645.6,438.7 645.6,437.0 645.6,435.3 C645.7,433.7 645.7,432.0 645.8,430.3 C645.8,428.6 645.8,427.0 645.9,425.3 C645.9,423.6 645.9,421.9 646.0,420.3 C646.0,418.6 646.0,416.9 646.0,415.2 C646.1,413.6 646.1,411.9 646.1,410.2 C646.2,408.5 646.2,406.8 646.2,405.2 C646.2,403.5 646.3,401.8 646.3,400.1 C646.3,398.4 646.3,396.8 646.3,395.1 C646.4,393.4 646.4,391.7 646.4,390.0 C646.4,388.4 646.5,386.7 646.5,385.0 C646.5,383.3 646.5,381.6 646.5,379.9 C646.6,378.3 646.6,376.6 646.6,374.9 C646.6,373.2 646.6,371.5 646.7,369.8 C646.7,368.1 646.7,366.5 646.7,364.8 C646.8,363.1 646.8,361.4 646.8,359.7 C646.8,358.0 646.9,356.3 646.9,354.7 C646.9,353.0 647.0,351.3 647.0,349.6 C647.0,347.9 647.0,346.2 647.1,344.5 C647.1,342.9 647.1,341.2 647.2,339.5 C647.2,337.8 647.3,336.1 647.3,334.5 C647.3,332.8 647.4,331.1 647.4,329.4 C647.5,327.7 647.5,326.1 647.6,324.4 C647.6,322.7 647.7,321.0 647.7,319.4 C647.8,317.7 647.8,316.0 647.9,314.4 C647.9,312.7 648.0,311.0 648.0,309.4 C648.1,307.7 648.2,306.0 648.2,304.4 C648.3,302.7 648.4,301.0 648.4,299.4 C648.5,297.7 648.6,296.1 648.7,294.4 C648.8,292.8 648.8,291.1 648.9,289.5 C649.0,287.8 649.1,286.2 649.2,284.6 C649.3,282.9 649.4,281.3 649.5,279.7 C649.6,278.0 649.7,276.4 649.8,274.8 C649.9,273.1 650.0,271.5 650.1,269.9 C650.3,268.3 650.4,266.7 650.5,265.0 C650.7,263.4 650.8,261.8 651.0,260.1 C651.2,258.4 651.4,256.7 651.7,254.9 C651.9,253.2 652.2,251.3 652.5,249.5 C652.9,247.7 653.2,245.7 653.7,244.0 C654.3,242.2 654.8,240.4 655.6,239.0 C656.4,237.7 657.2,236.4 658.4,235.7 C659.5,235.0 660.9,234.7 662.4,234.8 C663.9,234.9 665.7,235.7 667.2,236.3 C668.8,236.9 670.4,237.8 671.9,238.7 C673.3,239.5 674.7,240.4 676.1,241.3 C677.6,242.2 679.0,243.1 680.4,244.0 C681.8,244.9 683.2,245.8 684.6,246.7 C686.0,247.6 687.4,248.5 688.8,249.4 C690.2,250.3 691.6,251.3 693.0,252.2 C694.4,253.1 695.8,254.0 697.2,255.0 C698.6,255.9 700.0,256.8 701.4,257.7 C702.8,258.7 704.2,259.6 705.6,260.5 C707.0,261.4 708.4,262.4 709.8,263.3 C711.2,264.2 712.6,265.1 714.0,266.0 C715.4,267.0 716.9,267.9 718.3,268.8 C719.7,269.7 721.1,270.6 722.5,271.5 C723.9,272.4 725.3,273.3 726.8,274.1 C728.2,275.0 729.6,275.9 731.1,276.8 C732.5,277.6 733.9,278.5 735.4,279.3 C736.8,280.2 738.2,281.0 739.7,281.8 C741.1,282.7 742.6,283.5 744.1,284.3 C745.5,285.1 747.0,285.9 748.5,286.7 C749.9,287.5 751.4,288.2 752.9,289.0 C754.4,289.8 755.8,290.5 757.3,291.3 C758.8,292.0 760.3,292.8 761.8,293.5 C763.3,294.3 764.8,295.0 766.3,295.7 C767.8,296.4 769.4,297.1 770.9,297.8 C772.4,298.5 773.9,299.2 775.4,299.9 C777.0,300.6 778.5,301.3 780.0,301.9 C781.6,302.6 783.1,303.2 784.6,303.9 C786.2,304.5 787.7,305.2 789.3,305.8 C790.8,306.5 792.4,307.1 794.0,307.7 C795.5,308.3 797.1,308.9 798.6,309.5 C800.2,310.1 801.8,310.7 803.4,311.3 C804.9,311.9 806.5,312.5 808.1,313.0 C809.7,313.6 811.3,314.2 812.8,314.7 C814.4,315.2 816.0,315.8 817.6,316.3 C819.2,316.8 820.8,317.4 822.4,317.9 C824.0,318.4 825.6,318.9 827.2,319.4 C828.8,319.8 830.4,320.3 832.1,320.8 C833.7,321.2 835.3,321.7 836.9,322.1 C838.5,322.6 840.1,323.0 841.8,323.4 C843.4,323.9 845.0,324.3 846.6,324.7 C848.3,325.1 849.9,325.5 851.5,325.8 C853.1,326.2 854.8,326.6 856.4,326.9 C858.0,327.3 859.7,327.6 861.3,328.0 C863.0,328.3 864.6,328.6 866.2,328.9 C867.9,329.3 869.5,329.6 871.2,329.9 C872.8,330.2 874.5,330.5 876.1,330.7 C877.7,331.0 879.4,331.3 881.0,331.5 C882.7,331.8 884.4,332.1 886.0,332.3 C887.7,332.6 889.3,332.8 891.0,333.0 C892.6,333.2 894.3,333.5 895.9,333.7 C897.6,333.9 899.3,334.1 900.9,334.3 C902.6,334.5 904.2,334.7 905.9,334.9 C907.6,335.1 909.2,335.3 910.9,335.4 C912.6,335.6 914.2,335.8 915.9,335.9 C917.6,336.1 919.2,336.3 920.9,336.4 C922.6,336.6 924.2,336.7 925.9,336.8 C927.6,337.0 929.2,337.1 930.9,337.3 C932.6,337.4 934.3,337.5 935.9,337.6 C937.6,337.8 939.3,337.9 941.0,338.0 C942.6,338.1 944.3,338.2 946.0,338.3 C947.6,338.4 949.3,338.5 951.0,338.6 C952.7,338.7 954.3,338.8 956.0,338.9 C957.7,339.0 959.4,339.1 961.0,339.2 C962.7,339.3 964.4,339.3 966.1,339.4 C967.7,339.5 969.4,339.6 971.1,339.7 C972.8,339.7 974.4,339.8 976.1,339.9 C977.8,340.0 979.4,340.0 981.1,340.1 C982.8,340.2 984.5,340.2 986.1,340.3 C987.8,340.4 989.5,340.4 991.2,340.5 C992.8,340.5 994.5,340.6 996.2,340.7 C997.9,340.7 999.5,340.8 1001.2,340.8 C1002.9,340.9 1004.6,340.9 1006.2,341.0 C1007.9,341.0 1009.6,341.1 1011.3,341.1 C1012.9,341.1 1014.6,341.2 1016.3,341.2 C1018.0,341.3 1019.6,341.3 1021.3,341.3 C1023.0,341.4 1024.7,341.4 1026.3,341.4 C1028.0,341.5 1029.7,341.5 1031.4,341.5 C1033.0,341.6 1034.7,341.6 1036.4,341.6 C1038.0,341.6 1039.7,341.7 1041.4,341.7 C1043.1,341.7 1044.7,341.7 1046.4,341.8 C1048.1,341.8 1049.8,341.8 1051.4,341.8 C1053.1,341.8 1054.8,341.8 1056.5,341.9 C1058.1,341.9 1059.8,341.9 1061.5,341.9 C1063.2,341.9 1064.8,341.9 1066.5,341.9 C1068.2,341.9 1069.9,342.0 1071.5,342.0 C1073.2,342.0 1074.9,342.0 1076.6,342.0 C1078.2,342.0 1079.9,342.0 1081.6,342.0 C1083.3,342.0 1084.9,342.0 1086.6,342.0 C1088.3,342.0 1090.0,342.0 1091.6,342.0 C1093.3,342.0 1095.0,342.0 1096.7,342.0 C1098.3,342.0 1100.0,342.0 1101.7,342.0 C1103.4,342.0 1105.0,342.0 1106.7,342.0 C1108.4,342.0 1110.1,342.0 1111.7,342.0 C1113.4,342.0 1115.1,342.0 1116.7,342.0 C1118.4,342.0 1120.1,342.0 1121.8,342.0 C1123.4,342.0 1125.1,342.0 1126.8,341.9 C1128.5,341.9 1130.1,341.9 1131.8,341.9 C1133.5,341.9 1135.2,341.9 1136.8,341.9 C1138.5,341.9 1140.2,341.9 1141.9,341.9 C1143.5,341.9 1145.2,341.9 1146.9,341.9 C1148.6,341.9 1150.2,341.9 1151.9,341.8 C1153.6,341.8 1155.3,341.8 1156.9,341.8 C1158.6,341.8 1160.3,341.8 1162.0,341.8 C1163.6,341.8 1165.3,341.8 1167.0,341.8 C1168.7,341.8 1170.3,341.8 1172.0,341.8 C1173.7,341.8 1175.4,341.8 1177.0,341.8 C1178.7,341.7 1180.4,341.7 1182.1,341.7 C1183.7,341.7 1185.4,341.7 1187.1,341.7 C1188.8,341.7 1190.4,341.7 1192.1,341.7 C1193.8,341.7 1195.5,341.7 1197.1,341.7 C1198.8,341.7 1200.5,341.7 1202.2,341.7 C1203.8,341.7 1205.5,341.7 1207.2,341.7 C1208.9,341.7 1210.5,341.7 1212.2,341.7 C1213.9,341.7 1215.6,341.7 1217.2,341.7 C1218.9,341.7 1220.6,341.7 1222.3,341.7 C1223.9,341.8 1225.6,341.8 1227.3,341.8 C1229.0,341.8 1230.6,341.8 1232.3,341.8 C1234.0,341.8 1235.7,341.8 1237.3,341.8 C1239.0,341.8 1240.7,341.8 1242.4,341.8 C1244.0,341.8 1245.7,341.8 1247.4,341.8 C1249.1,341.8 1250.7,341.8 1252.4,341.9 C1254.1,341.9 1255.8,341.9 1257.4,341.9 C1259.1,341.9 1260.8,341.9 1262.5,341.9 C1264.1,341.9 1265.8,341.9 1267.5,341.9 C1269.2,341.9 1270.8,341.9 1272.5,341.9 C1274.2,341.9 1275.9,342.0 1277.5,342.0 C1279.2,342.0 1280.9,342.0 1282.6,342.0 C1284.2,342.0 1285.9,342.0 1287.6,342.0 C1289.3,342.0 1290.9,342.0 1292.6,342.0 C1294.3,342.0 1296.0,342.0 1297.6,342.0 C1299.3,342.0 1301.0,342.1 1302.7,342.1 C1304.3,342.1 1306.0,342.1 1307.7,342.1 C1309.4,342.1 1311.0,342.1 1312.7,342.1 C1314.4,342.1 1316.1,342.1 1317.7,342.1 C1319.4,342.1 1321.1,342.1 1322.8,342.1 C1324.4,342.1 1326.1,342.1 1327.8,342.1 C1329.5,342.1 1331.1,342.1 1332.8,342.1 C1334.5,342.1 1336.2,342.1 1337.8,342.1 C1339.5,342.1 1341.2,342.1 1342.9,342.1 C1344.5,342.1 1346.2,342.1 1347.9,342.1 C1349.6,342.1 1351.2,342.1 1352.9,342.1 C1354.6,342.1 1356.3,342.1 1357.9,342.1 C1359.6,342.1 1361.3,342.1 1363.0,342.1 C1364.6,342.0 1366.3,342.0 1368.0,342.0 C1369.7,342.0 1372.2,342.0 1373.0,342.0" stroke="#ff0000"/>
<path d="M283.0,342.0 C283.8,342.0 286.4,342.0 288.1,342.1 C289.8,342.1 291.5,342.1 293.2,342.1 C294.8,342.1 296.5,342.1 298.2,342.2 C299.9,342.2 301.6,342.2 303.3,342.2 C305.0,342.2 306.7,342.2 308.4,342.2 C310.1,342.2 311.8,342.2 313.5,342.3 C315.2,342.3 316.9,342.3 318.6,342.3 C320.2,342.3 321.9,342.3 323.6,342.3 C325.3,342.3 327.0,342.3 328.7,342.3 C330.4,342.3 332.1,342.3 333.8,342.3 C335.5,342.3 337.2,342.3 338.9,342.3 C340.6,342.3 342.3,342.3 344.0,342.3 C345.7,342.3 347.3,342.3 349.0,342.3 C350.7,342.2 352.4,342.2 354.1,342.2 C355.8,342.2 357.5,342.2 359.2,342.2 C360.9,342.2 362.6,342.2 364.3,342.2 C366.0,342.2 367.7,342.2 369.4,342.2 C371.1,342.1 372.8,342.1 374.4,342.1 C376.1,342.1 377.8,342.1 379.5,342.1 C381.2,342.1 382.9,342.1 384.6,342.1 C386.3,342.0 388.0,342.0 389.7,342.0 C391.4,342.0 393.1,342.0 394.8,342.0 C396.5,342.0 398.2,341.9 399.9,341.9 C401.6,341.9 403.2,341.9 404.9,341.9 C406.6,341.9 408.3,341.9 410.0,341.8 C411.7,341.8 413.4,341.8 415.1,341.8 C416.8,341.8 418.5,341.8 420.2,341.8 C421.9,341.8 423.6,341.7 425.3,341.7 C427.0,341.7 428.7,341.7 430.4,341.7 C432.0,341.7 433.7,341.7 435.4,341.6 C437.1,341.6 438.8,341.6 440.5,341.6 C442.2,341.6 443.9,341.6 445.6,341.6 C447.3,341.6 449.0,341.6 450.7,341.5 C452.4,341.5 454.1,341.5 455.8,341.5 C457.5,341.5 459.2,341.5 460.8,341.5 C462.5,341.5 464.2,341.5 465.9,341.5 C467.6,341.5 469.3,341.5 471.0,341.5 C472.7,341.4 474.4,341.4 476.1,341.4 C477.8,341.4 479.5,341.4 481.2,341.4 C482.9,341.4 484.6,341.4 486.3,341.4 C487.9,341.4 489.6,341.4 491.3,341.4 C493.0,341.4 494.7,341.4 496.4,341.4 C498.1,341.4 499.8,341.4 501.5,341.5 C503.2,341.5 504.9,341.5 506.6,341.5 C508.3,341.5 510.0,341.5 511.7,341.5 C513.4,341.5 515.0,341.5 516.7,341.6 C518.4,341.6 520.1,341.6 521.8,341.6 C523.5,341.6 525.2,341.6 526.9,341.7 C528.6,341.7 530.3,341.7 532.0,341.7 C533.7,341.8 535.4,341.8 537.1,341.8 C538.7,341.9 540.4,341.9 542.1,341.9 C543.8,342.0 545.5,342.0 547.2,342.1 C548.9,342.1 550.6,342.1 552.3,342.2 C554.0,342.2 555.7,342.3 557.4,342.3 C559.0,342.4 560.7,342.4 562.4,342.5 C564.1,342.6 565.8,342.6 567.5,342.7 C569.2,342.7 570.9,342.8 572.6,342.9 C574.3,342.9 576.0,343.0 577.6,343.1 C579.3,343.2 581.0,343.3 582.7,343.3 C584.4,343.4 586.1,343.5 587.8,343.6 C589.5,343.7 591.2,343.8 592.9,343.9 C594.6,344.0 596.2,344.1 597.9,344.2 C599.6,344.3 601.3,344.4 603.0,344.5 C604.7,344.6 606.4,344.7 608.1,344.8 C609.8,345.0 611.4,345.1 613.1,345.2 C614.8,345.3 616.5,345.5 618.2,345.6 C619.9,345.8 621.6,345.9 623.3,346.0 C624.9,346.2 626.6,346.3 628.3,346.5 C630.0,346.6 631.7,346.8 633.4,347.0 C635.1,347.1 636.8,347.3 638.4,347.5 C640.1,347.6 642.6,348.1 643.5,348.0 C644.4,347.9 643.6,347.3 643.7,347.0 C643.7,346.6 643.8,346.3 643.9,345.9 C643.9,345.6 644.0,345.2 644.0,344.9 C644.1,344.5 644.2,344.2 644.2,343.8 C644.3,343.5 644.3,343.1 644.4,342.8 C644.5,342.4 644.5,342.1 644.6,341.7 C644.7,341.4 644.7,341.0 644.8,340.7 C644.8,340.3 644.9,340.0 645.0,339.6 C645.0,339.3 645.1,338.9 645.1,338.6 C645.2,338.2 645.3,337.9 645.3,337.5 C645.4,337.2 644.6,336.6 645.5,336.5 C646.4,336.4 648.9,336.7 650.5,336.8 C652.2,336.9 653.9,337.0 655.6,337.1 C657.2,337.2 658.9,337.3 660.6,337.4 C662.3,337.6 664.0,337.7 665.6,337.8 C667.3,337.9 669.0,338.0 670.7,338.1 C672.4,338.1 674.0,338.2 675.7,338.3 C677.4,338.4 679.1,338.5 680.8,338.6 C682.4,338.7 684.1,338.8 685.8,338.9 C687.5,339.0 689.2,339.1 690.8,339.1 C692.5,339.2 694.2,339.3 695.9,339.4 C697.6,339.5 699.3,339.6 700.9,339.6 C702.6,339.7 704.3,339.8 706.0,339.8 C707.7,339.9 709.3,340.0 711.0,340.0 C712.7,340.1 714.4,340.2 716.1,340.2 C717.8,340.3 719.4,340.4 721.1,340.4 C722.8,340.5 724.5,340.5 726.2,340.6 C727.9,340.6 729.5,340.7 731.2,340.7 C732.9,340.8 734.6,340.8 736.3,340.9 C738.0,340.9 739.6,340.9 741.3,341.0 C743.0,341.0 744.7,341.1 746.4,341.1 C748.1,341.1 749.7,341.2 751.4,341.2 C753.1,341.2 754.8,341.3 756.5,341.3 C758.2,341.3 759.8,341.4 761.5,341.4 C763.2,341.4 764.9,341.5 766.6,341.5 C768.3,341.5 769.9,341.5 771.6,341.6 C773.3,341.6 775.0,341.6 776.7,341.6 C778.4,341.6 780.1,341.7 781.7,341.7 C783.4,341.7 785.1,341.7 786.8,341.7 C788.5,341.8 790.2,341.8 791.8,341.8 C793.5,341.8 795.2,341.8 796.9,341.8 C798.6,341.8 800.3,341.9 802.0,341.9 C803.6,341.9 805.3,341.9 807.0,341.9 C808.7,341.9 810.4,341.9 812.1,341.9 C813.7,341.9 815.4,341.9 817.1,341.9 C818.8,342.0 820.5,342.0 822.2,342.0 C823.9,342.0 825.5,342.0 827.2,342.0 C828.9,342.0 830.6,342.0 832.3,342.0 C834.0,342.0 835.6,342.0 837.3,342.0 C839.0,342.0 840.7,342.0 842.4,342.0 C844.1,342.0 845.8,342.1 847.4,342.1 C849.1,342.1 850.8,342.1 852.5,342.1 C854.2,342.1 855.9,342.1 857.5,342.1 C859.2,342.1 860.9,342.1 862.6,342.1 C864.3,342.1 866.0,342.1 867.7,342.1 C869.3,342.1 871.0,342.1 872.7,342.1 C874.4,342.1 876.1,342.1 877.8,342.1 C879.4,342.1 881.1,342.1 882.8,342.1 C884.5,342.1 886.2,342.1 887.9,342.1 C889.6,342.1 891.2,342.1 892.9,342.1 C894.6,342.1 896.3,342.1 898.0,342.1 C899.7,342.1 901.3,342.1 903.0,342.1 C904.7,342.1 906.4,342.1 908.1,342.1 C909.8,342.1 911.5,342.1 913.1,342.1 C914.8,342.1 916.5,342.1 918.2,342.1 C919.9,342.1 921.6,342.1 923.2,342.1 C924.9,342.1 926.6,342.1 928.3,342.1 C930.0,342.1 931.7,342.1 933.4,342.1 C935.0,342.1 936.7,342.1 938.4,342.1 C940.1,342.1 941.8,342.1 943.5,342.1 C945.1,342.1 946.8,342.1 948.5,342.1 C950.2,342.1 951.9,342.1 953.6,342.1 C955.2,342.1 956.9,342.1 958.6,342.1 C960.3,342.1 962.0,342.1 963.7,342.1 C965.4,342.1 967.0,342.1 968.7,342.1 C970.4,342.0 972.1,342.0 973.8,342.0 C975.5,342.0 977.1,342.0 978.8,342.0 C980.5,342.0 982.2,342.0 983.9,342.0 C985.6,342.0 987.3,342.0 988.9,342.0 C990.6,342.0 992.3,342.0 994.0,342.0 C995.7,342.0 997.4,342.0 999.0,342.0 C1000.7,342.0 1002.4,342.0 1004.1,342.0 C1005.8,342.0 1007.5,342.0 1009.1,342.0 C1010.8,342.0 1012.5,342.0 1014.2,342.0 C1015.9,342.0 1017.6,342.0 1019.3,342.0 C1020.9,342.0 1022.6,342.0 1024.3,342.0 C1026.0,342.0 1027.7,342.0 1029.4,342.0 C1031.0,342.0 1032.7,342.0 1034.4,342.0 C1036.1,342.0 1037.8,342.0 1039.5,342.0 C1041.2,342.0 1042.8,342.0 1044.5,342.0 C1046.2,342.0 1047.9,342.0 1049.6,342.0 C1051.3,342.0 1052.9,342.0 1054.6,342.0 C1056.3,342.0 1058.0,342.0 1059.7,342.0 C1061.4,342.0 1063.1,342.0 1064.7,342.0 C1066.4,342.0 1068.1,342.0 1069.8,342.0 C1071.5,342.0 1073.2,342.0 1074.8,342.0 C1076.5,342.0 1078.2,342.0 1079.9,342.0 C1081.6,342.0 1083.3,342.0 1085.0,342.0 C1086.6,342.0 1088.3,342.0 1090.0,342.0 C1091.7,342.0 1093.4,342.0 1095.1,342.0 C1096.7,342.0 1098.4,342.0 1100.1,342.0 C1101.8,342.0 1103.5,342.0 1105.2,342.0 C1106.8,342.0 1108.5,342.0 1110.2,342.0 C1111.9,342.0 1113.6,342.0 1115.3,342.0 C1117.0,342.0 1118.6,342.0 1120.3,342.0 C1122.0,342.0 1123.7,342.0 1125.4,342.0 C1127.1,342.0 1128.7,342.0 1130.4,342.0 C1132.1,342.0 1133.8,342.0 1135.5,342.0 C1137.2,342.0 1138.9,342.0 1140.5,342.0 C1142.2,342.0 1143.9,342.0 1145.6,342.0 C1147.3,342.0 1149.0,342.0 1150.6,342.0 C1152.3,342.0 1154.0,342.0 1155.7,342.0 C1157.4,342.0 1159.1,342.0 1160.8,342.0 C1162.4,342.0 1164.1,342.0 1165.8,342.0 C1167.5,342.0 1169.2,342.0 1170.9,342.0 C1172.5,342.0 1174.2,342.0 1175.9,342.0 C1177.6,342.0 1179.3,342.0 1181.0,342.0 C1182.7,342.0 1184.3,342.0 1186.0,342.0 C1187.7,342.0 1189.4,342.0 1191.1,342.0 C1192.8,342.0 1194.4,342.0 1196.1,342.0 C1197.8,342.0 1199.5,342.0 1201.2,342.0 C1202.9,342.0 1204.6,342.0 1206.2,342.0 C1207.9,342.0 1209.6,342.0 1211.3,342.0 C1213.0,342.0 1214.7,342.0 1216.3,342.0 C1218.0,342.0 1219.7,342.0 1221.4,342.0 C1223.1,342.0 1224.8,342.0 1226.5,342.0 C1228.1,342.0 1229.8,342.0 1231.5,342.0 C1233.2,342.0 1234.9,342.0 1236.6,342.0 C1238.2,342.0 1239.9,342.0 1241.6,342.0 C1243.3,342.0 1245.0,342.0 1246.7,342.0 C1248.3,342.0 1250.0,342.0 1251.7,342.0 C1253.4,342.0 1255.1,342.0 1256.8,342.0 C1258.5,342.0 1260.1,342.0 1261.8,342.0 C1263.5,342.0 1265.2,342.0 1266.9,342.0 C1268.6,342.0 1270.2,342.0 1271.9,342.0 C1273.6,342.0 1275.3,342.0 1277.0,342.0 C1278.7,342.0 1280.4,342.0 1282.0,342.0 C1283.7,342.0 1285.4,342.0 1287.1,342.0 C1288.8,342.0 1290.5,342.0 1292.1,342.0 C1293.8,342.0 1295.5,342.0 1297.2,342.0 C1298.9,342.0 1300.6,342.0 1302.3,342.0 C1303.9,342.0 1305.6,342.0 1307.3,342.0 C1309.0,342.0 1310.7,342.0 1312.4,342.0 C1314.0,342.0 1315.7,342.0 1317.4,342.0 C1319.1,342.0 1320.8,342.0 1322.5,342.0 C1324.2,342.0 1325.8,342.0 1327.5,342.0 C1329.2,342.0 1330.9,342.0 1332.6,342.0 C1334.3,342.0 1335.9,342.0 1337.6,342.0 C1339.3,342.0 1341.0,342.0 1342.7,342.0 C1344.4,342.0 1346.0,342.0 1347.7,342.0 C1349.4,342.0 1351.1,342.0 1352.8,342.0 C1354.5,342.0 1356.2,342.0 1357.8,342.0 C1359.5,342.0 1361.2,342.0 1362.9,342.0 C1364.6,342.0 1366.3,342.0 1367.9,342.0 C1369.6,342.0 1372.2,342.0 1373.0,342.0" stroke="#0000ff"/>
<path d="M301.0,341.8 C301.8,341.8 304.4,341.7 306.0,341.7 C307.7,341.7 309.4,341.6 311.1,341.6 C312.8,341.6 314.4,341.6 316.1,341.6 C317.8,341.5 319.5,341.5 321.2,341.5 C322.8,341.5 324.5,341.5 326.2,341.5 C327.9,341.5 329.6,341.5 331.2,341.6 C332.9,341.6 334.6,341.6 336.3,341.6 C337.9,341.6 339.6,341.6 341.3,341.7 C343.0,341.7 344.6,341.7 346.3,341.7 C348.0,341.8 349.7,341.8 351.4,341.8 C353.0,341.9 354.7,341.9 356.4,341.9 C358.1,341.9 359.7,342.0 361.4,342.0 C363.1,342.1 364.8,342.1 366.4,342.1 C368.1,342.2 369.8,342.2 371.5,342.2 C373.1,342.3 374.8,342.3 376.5,342.3 C378.2,342.4 379.8,342.4 381.5,342.4 C383.2,342.5 384.9,342.5 386.5,342.5 C388.2,342.6 389.9,342.6 391.6,342.6 C393.2,342.6 394.9,342.7 396.6,342.7 C398.3,342.7 399.9,342.7 401.6,342.7 C403.3,342.7 405.0,342.8 406.6,342.8 C408.3,342.8 410.0,342.8 411.7,342.8 C413.3,342.8 415.0,342.8 416.7,342.8 C418.4,342.8 420.1,342.9 421.7,342.9 C423.4,342.9 425.1,342.9 426.8,342.9 C428.4,342.9 430.1,343.0 431.8,343.0 C433.5,343.0 435.1,343.0 436.8,343.1 C438.5,343.1 440.2,343.2 441.8,343.2 C443.5,343.3 445.2,343.3 446.9,343.4 C448.5,343.5 450.2,343.5 451.9,343.6 C453.6,343.7 455.3,343.8 456.9,343.9 C458.6,344.0 460.3,344.1 462.0,344.2 C463.6,344.3 465.3,344.5 467.0,344.6 C468.6,344.8 470.3,344.9 472.0,345.1 C473.7,345.3 475.3,345.4 477.0,345.6 C478.7,345.8 480.4,346.1 482.0,346.3 C483.7,346.5 485.4,346.8 487.1,347.0 C488.7,347.3 490.4,347.6 492.1,347.9 C493.7,348.2 495.4,348.5 497.1,348.8 C498.7,349.2 500.4,349.5 502.1,349.9 C503.7,350.3 505.4,350.7 507.0,351.1 C508.6,351.6 510.3,352.0 511.9,352.5 C513.5,353.0 515.1,353.5 516.7,354.0 C518.3,354.6 519.9,355.1 521.5,355.7 C523.0,356.3 524.6,357.0 526.1,357.6 C527.6,358.3 529.2,359.0 530.6,359.7 C532.1,360.4 533.6,361.2 535.0,362.0 C536.5,362.8 537.9,363.7 539.3,364.5 C540.7,365.4 542.0,366.3 543.4,367.3 C544.7,368.3 546.0,369.3 547.3,370.3 C548.6,371.4 549.8,372.4 551.0,373.6 C552.2,374.7 553.4,375.9 554.6,377.0 C555.7,378.2 556.9,379.5 558.0,380.7 C559.1,382.0 560.1,383.3 561.2,384.6 C562.2,385.9 563.2,387.2 564.2,388.6 C565.2,389.9 566.2,391.3 567.2,392.7 C568.1,394.1 569.0,395.6 569.9,397.0 C570.8,398.4 571.7,399.9 572.6,401.3 C573.4,402.8 574.2,404.3 575.1,405.8 C575.9,407.2 576.7,408.7 577.4,410.2 C578.2,411.7 578.9,413.2 579.7,414.7 C580.4,416.3 581.1,417.8 581.8,419.3 C582.5,420.8 583.2,422.4 583.8,423.9 C584.5,425.4 585.1,427.0 585.7,428.6 C586.4,430.1 587.0,431.7 587.6,433.2 C588.1,434.8 588.7,436.4 589.3,438.0 C589.8,439.5 590.4,441.1 590.9,442.7 C591.4,444.3 592.0,445.9 592.5,447.5 C593.0,449.1 593.5,450.7 593.9,452.3 C594.4,453.9 594.9,455.5 595.3,457.1 C595.8,458.7 596.2,460.4 596.7,462.0 C597.1,463.6 597.5,465.2 597.9,466.9 C598.3,468.5 598.7,470.1 599.1,471.8 C599.5,473.4 599.9,475.0 600.3,476.7 C600.7,478.3 601.1,480.0 601.4,481.6 C601.8,483.2 602.2,484.9 602.5,486.5 C602.9,488.2 603.2,489.8 603.6,491.5 C603.9,493.1 604.2,494.8 604.6,496.4 C604.9,498.1 605.2,499.7 605.6,501.4 C605.9,503.0 606.2,504.7 606.5,506.3 C606.9,508.0 607.2,509.6 607.5,511.3 C607.8,512.9 608.1,514.6 608.4,516.2 C608.7,517.9 609.1,519.6 609.4,521.2 C609.7,522.9 610.0,524.5 610.3,526.2 C610.6,527.8 610.9,529.5 611.1,531.1 C611.4,532.8 611.7,534.4 612.0,536.1 C612.3,537.7 612.6,539.4 612.9,541.1 C613.1,542.7 613.4,544.4 613.7,546.0 C614.0,547.7 614.2,549.3 614.5,551.0 C614.8,552.6 615.0,554.3 615.3,556.0 C615.6,557.6 615.8,559.3 616.1,560.9 C616.3,562.6 616.6,564.2 616.9,565.9 C617.1,567.5 617.4,569.2 617.6,570.9 C617.9,572.5 618.1,574.2 618.3,575.8 C618.6,577.5 618.8,579.2 619.1,580.8 C619.3,582.5 619.5,584.1 619.8,585.8 C620.0,587.4 620.2,589.1 620.5,590.8 C620.7,592.4 620.9,594.1 621.1,595.7 C621.3,597.4 621.6,599.1 621.8,600.7 C622.0,602.4 622.2,604.1 622.4,605.7 C622.6,607.4 622.9,609.0 623.1,610.7 C623.3,612.4 623.5,614.0 623.7,615.7 C623.9,617.3 624.1,619.0 624.3,620.7 C624.5,622.3 624.7,624.0 624.9,625.7 C625.1,627.3 625.3,629.0 625.4,630.7 C625.6,632.3 625.8,634.0 626.0,635.6 C626.2,637.3 626.4,639.0 626.6,640.6 C626.7,642.3 626.9,644.0 627.1,645.6 C627.3,647.3 627.5,649.0 627.6,650.6 C627.8,652.3 628.0,654.0 628.1,655.6 C628.3,657.3 628.5,659.0 628.6,660.6 C628.8,662.3 629.0,664.0 629.1,665.6 C629.3,667.3 629.5,669.0 629.6,670.6 C629.8,672.3 629.9,674.0 630.1,675.6 C630.2,677.3 630.4,679.0 630.5,680.7 C630.7,682.3 630.8,684.0 631.0,685.7 C631.1,687.3 631.3,689.0 631.4,690.7 C631.6,692.3 631.7,694.0 631.9,695.7 C632.0,697.4 632.1,699.0 632.3,700.7 C632.4,702.4 632.5,704.0 632.7,705.7 C632.8,707.4 633.0,709.1 633.1,710.7 C633.2,712.4 633.3,714.1 633.5,715.8 C633.6,717.4 633.7,719.1 633.9,720.8 C634.0,722.5 634.1,724.1 634.2,725.8 C634.4,727.5 634.5,729.1 634.6,730.8 C634.7,732.5 634.9,734.2 635.0,735.8 C635.1,737.5 635.2,739.2 635.4,740.9 C635.5,742.5 635.6,744.2 635.7,745.9 C635.8,747.6 636.0,749.2 636.1,750.9 C636.2,752.6 636.3,754.3 636.4,755.9 C636.6,757.6 636.7,759.3 636.8,761.0 C636.9,762.6 637.0,764.3 637.1,766.0 C637.3,767.7 637.4,769.3 637.5,771.0 C637.6,772.7 637.7,774.4 637.8,776.0 C638.0,777.7 638.1,779.4 638.2,781.1 C638.3,782.7 638.4,784.4 638.5,786.1 C638.7,787.8 638.8,789.5 638.9,791.1 C639.0,792.8 639.1,794.5 639.2,796.2 C639.4,797.8 639.5,799.5 639.6,801.2 C639.7,802.9 639.8,804.5 639.9,806.2 C640.1,807.9 640.2,809.6 640.3,811.2 C640.4,812.9 640.5,814.6 640.7,816.3 C640.8,817.9 640.9,819.6 641.0,821.3 C641.2,823.0 641.3,824.6 641.4,826.3 C641.5,828.0 641.6,829.7 641.8,831.3 C641.9,833.0 642.0,834.7 642.2,836.3 C642.3,838.0 642.4,839.7 642.5,841.4 C642.7,843.0 642.8,844.7 642.9,846.4 C643.1,848.1 643.2,849.7 643.3,851.4 C643.5,853.1 643.6,854.7 643.7,856.4 C643.9,858.1 644.0,859.8 644.2,861.4 C644.3,863.1 644.5,864.8 644.6,866.4 C644.7,868.1 644.9,869.8 645.0,871.5 C645.2,873.1 645.3,874.8 645.5,876.5 C645.6,878.1 645.8,879.8 645.9,881.5 C646.1,883.2 646.2,884.8 646.4,886.5 C646.6,888.2 646.7,889.8 646.9,891.5 C647.0,893.2 647.2,894.8 647.4,896.5 C647.5,898.2 647.7,899.8 647.9,901.5 C648.1,903.2 648.2,904.8 648.4,906.5 C648.6,908.2 648.8,909.8 648.9,911.5 C649.1,913.2 649.3,914.8 649.5,916.5 C649.7,918.2 649.9,919.8 650.0,921.5 C650.2,923.1 650.4,924.8 650.6,926.5 C650.8,928.1 651.0,929.8 651.2,931.5 C651.4,933.1 651.6,934.8 651.8,936.4 C652.0,938.1 652.2,939.8 652.5,941.4 C652.7,943.1 652.9,946.4 653.1,946.4 C653.3,946.4 653.5,943.1 653.7,941.4 C653.9,939.8 654.1,938.1 654.3,936.4 C654.5,934.8 654.7,933.1 654.9,931.5 C655.0,929.8 655.2,928.1 655.4,926.5 C655.6,924.8 655.7,923.1 655.9,921.5 C656.0,919.8 656.2,918.2 656.3,916.5 C656.5,914.8 656.6,913.2 656.8,911.5 C656.9,909.8 657.1,908.2 657.2,906.5 C657.3,904.8 657.4,903.2 657.6,901.5 C657.7,899.8 657.8,898.2 657.9,896.5 C658.0,894.8 658.2,893.2 658.3,891.5 C658.4,889.8 658.5,888.2 658.6,886.5 C658.7,884.8 658.8,883.2 658.9,881.5 C659.0,879.8 659.0,878.2 659.1,876.5 C659.2,874.8 659.3,873.1 659.4,871.5 C659.5,869.8 659.5,868.1 659.6,866.5 C659.7,864.8 659.8,863.1 659.8,861.5 C659.9,859.8 660.0,858.1 660.0,856.4 C660.1,854.8 660.1,853.1 660.2,851.4 C660.2,849.8 660.3,848.1 660.4,846.4 C660.4,844.7 660.5,843.1 660.5,841.4 C660.5,839.7 660.6,838.1 660.6,836.4 C660.7,834.7 660.7,833.0 660.8,831.4 C660.8,829.7 660.8,828.0 660.9,826.3 C660.9,824.7 660.9,823.0 661.0,821.3 C661.0,819.7 661.0,818.0 661.0,816.3 C661.1,814.6 661.1,813.0 661.1,811.3 C661.2,809.6 661.2,807.9 661.2,806.3 C661.2,804.6 661.2,802.9 661.3,801.2 C661.3,799.6 661.3,797.9 661.3,796.2 C661.3,794.6 661.4,792.9 661.4,791.2 C661.4,789.5 661.4,787.9 661.4,786.2 C661.4,784.5 661.5,782.8 661.5,781.2 C661.5,779.5 661.5,777.8 661.5,776.1 C661.5,774.5 661.6,772.8 661.6,771.1 C661.6,769.4 661.6,767.8 661.6,766.1 C661.6,764.4 661.6,762.7 661.7,761.1 C661.7,759.4 661.7,757.7 661.7,756.1 C661.7,754.4 661.7,752.7 661.7,751.0 C661.8,749.4 661.8,747.7 661.8,746.0 C661.8,744.3 661.8,742.7 661.8,741.0 C661.9,739.3 661.9,737.6 661.9,736.0 C661.9,734.3 661.9,732.6 662.0,731.0 C662.0,729.3 662.0,727.6 662.0,725.9 C662.0,724.3 662.1,722.6 662.1,720.9 C662.1,719.3 662.1,717.6 662.1,715.9 C662.2,714.2 662.2,712.6 662.2,710.9 C662.2,709.2 662.2,707.5 662.3,705.9 C662.3,704.2 662.3,702.5 662.3,700.9 C662.3,699.2 662.4,697.5 662.4,695.8 C662.4,694.2 662.4,692.5 662.4,690.8 C662.5,689.2 662.5,687.5 662.5,685.8 C662.5,684.1 662.6,682.5 662.6,680.8 C662.6,679.1 662.6,677.5 662.7,675.8 C662.7,674.1 662.7,672.4 662.7,670.8 C662.7,669.1 662.8,667.4 662.8,665.7 C662.8,664.1 662.8,662.4 662.9,660.7 C662.9,659.1 662.9,657.4 662.9,655.7 C663.0,654.1 663.0,652.4 663.0,650.7 C663.0,649.0 663.1,647.4 663.1,645.7 C663.1,644.0 663.1,642.4 663.2,640.7 C663.2,639.0 663.2,637.3 663.2,635.7 C663.3,634.0 663.3,632.3 663.3,630.7 C663.3,629.0 663.4,627.3 663.4,625.6 C663.4,624.0 663.4,622.3 663.5,620.6 C663.5,619.0 663.5,617.3 663.5,615.6 C663.6,613.9 663.6,612.3 663.6,610.6 C663.7,608.9 663.7,607.3 663.7,605.6 C663.7,603.9 663.8,602.2 663.8,600.6 C663.8,598.9 663.8,597.2 663.9,595.6 C663.9,593.9 663.9,592.2 663.9,590.5 C664.0,588.9 664.0,587.2 664.0,585.5 C664.0,583.9 664.1,582.2 664.1,580.5 C664.1,578.9 664.1,577.2 664.2,575.5 C664.2,573.8 664.2,572.2 664.3,570.5 C664.3,568.8 664.3,567.2 664.3,565.5 C664.4,563.8 664.4,562.1 664.4,560.5 C664.4,558.8 664.5,557.1 664.5,555.5 C664.5,553.8 664.5,552.1 664.6,550.4 C664.6,548.8 664.6,547.1 664.6,545.4 C664.7,543.8 664.7,542.1 664.7,540.4 C664.7,538.7 664.8,537.1 664.8,535.4 C664.8,533.7 664.8,532.1 664.9,530.4 C664.9,528.7 664.9,527.0 664.9,525.4 C665.0,523.7 665.0,522.0 665.0,520.4 C665.0,518.7 665.1,517.0 665.1,515.3 C665.1,513.7 665.1,512.0 665.2,510.3 C665.2,508.7 665.2,507.0 665.2,505.3 C665.3,503.6 665.3,502.0 665.3,500.3 C665.3,498.6 665.4,497.0 665.4,495.3 C665.4,493.6 665.4,491.9 665.5,490.3 C665.5,488.6 665.5,486.9 665.5,485.2 C665.5,483.6 665.6,481.9 665.6,480.2 C665.6,478.6 665.6,476.9 665.7,475.2 C665.7,473.5 665.7,471.9 665.7,470.2 C665.7,468.5 665.8,466.9 665.8,465.2 C665.8,463.5 665.8,461.8 665.8,460.2 C665.9,458.5 665.9,456.8 665.9,455.1 C665.9,453.5 665.9,451.8 666.0,450.1 C666.0,448.4 666.0,446.8 666.0,445.1 C666.0,443.4 666.1,441.8 666.1,440.1 C666.1,438.4 666.1,436.7 666.1,435.1 C666.2,433.4 666.2,431.7 666.2,430.0 C666.2,428.4 666.2,426.7 666.2,425.0 C666.3,423.3 666.3,421.7 666.3,420.0 C666.3,418.3 666.3,416.7 666.4,415.0 C666.4,413.3 666.4,411.6 666.4,410.0 C666.4,408.3 666.4,406.6 666.5,404.9 C666.5,403.3 666.5,401.6 666.5,399.9 C666.5,398.2 666.6,396.6 666.6,394.9 C666.6,393.2 666.6,391.5 666.6,389.9 C666.7,388.2 666.7,386.5 666.7,384.8 C666.7,383.2 666.7,381.5 666.8,379.8 C666.8,378.2 666.8,376.5 666.8,374.8 C666.8,373.1 666.9,371.5 666.9,369.8 C666.9,368.1 666.9,366.4 667.0,364.8 C667.0,363.1 667.0,361.4 667.0,359.7 C667.1,358.1 667.1,356.4 667.1,354.7 C667.1,353.0 667.2,351.4 667.2,349.7 C667.2,348.0 667.2,346.3 667.3,344.7 C667.3,343.0 667.3,341.3 667.4,339.7 C667.4,338.0 667.4,336.3 667.5,334.6 C667.5,333.0 667.5,331.3 667.6,329.6 C667.6,327.9 667.6,326.3 667.7,324.6 C667.7,322.9 667.7,321.3 667.8,319.6 C667.8,317.9 667.8,316.2 667.9,314.6 C667.9,312.9 668.0,311.2 668.0,309.5 C668.0,307.9 668.1,306.2 668.1,304.5 C668.2,302.9 668.2,301.2 668.3,299.5 C668.3,297.8 668.3,296.2 668.4,294.5 C668.4,292.8 668.5,291.1 668.5,289.5 C668.6,287.8 668.6,286.1 668.7,284.5 C668.7,282.8 668.8,281.1 668.8,279.4 C668.9,277.8 669.0,276.1 669.0,274.4 C669.1,272.8 669.1,271.1 669.2,269.4 C669.2,267.7 669.3,266.1 669.4,264.4 C669.4,262.7 669.5,261.1 669.6,259.4 C669.6,257.7 669.7,256.1 669.8,254.4 C669.8,252.7 669.9,251.0 670.0,249.4 C670.0,247.7 670.1,246.0 670.2,244.4 C670.3,242.7 670.3,241.0 670.4,239.4 C670.5,237.7 670.6,236.0 670.6,234.4 C670.7,232.7 670.8,231.0 670.9,229.3 C671.0,227.7 671.1,226.0 671.1,224.3 C671.2,222.7 671.3,221.0 671.4,219.3 C671.5,217.7 671.6,216.0 671.7,214.3 C671.8,212.7 671.9,211.0 672.0,209.3 C672.1,207.7 672.2,206.0 672.3,204.3 C672.4,202.7 672.5,201.0 672.6,199.3 C672.7,197.7 672.8,196.0 672.9,194.3 C673.0,192.7 673.1,191.0 673.3,189.3 C673.4,187.7 673.5,186.0 673.6,184.4 C673.7,182.7 673.8,181.0 674.0,179.4 C674.1,177.7 674.2,176.0 674.3,174.4 C674.5,172.7 674.6,171.0 674.7,169.4 C674.9,167.7 675.0,166.1 675.1,164.4 C675.3,162.7 675.4,161.1 675.5,159.4 C675.7,157.7 675.8,156.1 676.0,154.4 C676.1,152.8 676.3,151.1 676.4,149.4 C676.6,147.8 676.7,146.1 676.9,144.4 C677.1,142.8 677.2,141.1 677.4,139.4 C677.6,137.8 677.8,136.1 678.0,134.4 C678.2,132.7 678.3,131.1 678.6,129.4 C678.8,127.7 679.0,126.0 679.2,124.3 C679.4,122.6 679.6,120.9 679.9,119.2 C680.2,117.6 680.4,115.8 680.8,114.2 C681.1,112.6 681.5,110.9 682.1,109.4 C682.7,107.9 683.4,106.3 684.4,105.0 C685.3,103.8 686.6,102.3 687.8,101.6 C689.1,100.9 690.6,100.6 692.0,100.9 C693.5,101.1 695.0,102.1 696.4,103.1 C697.7,104.1 699.1,105.5 700.3,106.8 C701.5,108.1 702.5,109.5 703.5,110.9 C704.6,112.3 705.4,113.7 706.3,115.1 C707.2,116.5 708.0,117.9 708.9,119.3 C709.7,120.7 710.6,122.1 711.5,123.5 C712.4,124.9 713.3,126.3 714.2,127.7 C715.1,129.0 716.1,130.4 717.0,131.8 C718.0,133.1 718.9,134.5 719.9,135.8 C720.9,137.2 721.8,138.5 722.8,139.9 C723.8,141.2 724.8,142.6 725.8,143.9 C726.8,145.3 727.8,146.6 728.8,147.9 C729.8,149.3 730.8,150.6 731.8,152.0 C732.8,153.3 733.8,154.7 734.9,156.0 C735.9,157.3 736.9,158.7 737.9,160.1 C738.9,161.4 739.8,162.8 740.8,164.1 C741.8,165.5 742.8,166.9 743.7,168.2 C744.7,169.6 745.7,171.0 746.6,172.4 C747.5,173.8 748.5,175.1 749.4,176.6 C750.3,178.0 751.2,179.4 752.1,180.8 C752.9,182.2 753.8,183.7 754.7,185.1 C755.5,186.5 756.3,188.0 757.2,189.4 C758.0,190.9 758.8,192.3 759.6,193.8 C760.4,195.3 761.3,196.7 762.1,198.2 C762.9,199.6 763.7,201.1 764.5,202.5 C765.4,204.0 766.2,205.4 767.0,206.9 C767.9,208.3 768.7,209.8 769.6,211.2 C770.4,212.6 771.3,214.1 772.2,215.5 C773.1,216.9 774.0,218.3 774.9,219.7 C775.9,221.1 776.8,222.4 777.8,223.8 C778.8,225.2 779.8,226.5 780.8,227.8 C781.8,229.2 782.8,230.5 783.9,231.8 C784.9,233.2 785.9,234.5 787.0,235.8 C788.0,237.1 789.1,238.4 790.1,239.8 C791.2,241.1 792.2,242.4 793.2,243.7 C794.3,245.0 795.3,246.4 796.3,247.7 C797.3,249.0 798.3,250.4 799.3,251.7 C800.3,253.0 801.3,254.4 802.2,255.7 C803.2,257.1 804.2,258.4 805.2,259.8 C806.1,261.1 807.1,262.4 808.1,263.8 C809.1,265.1 810.1,266.4 811.1,267.7 C812.1,269.0 813.2,270.3 814.2,271.6 C815.3,272.8 816.4,274.1 817.5,275.3 C818.6,276.6 819.8,277.8 821.0,279.0 C822.1,280.2 823.3,281.3 824.5,282.5 C825.7,283.7 827.0,284.8 828.2,285.9 C829.5,287.1 830.8,288.2 832.1,289.2 C833.3,290.3 834.7,291.4 836.0,292.5 C837.3,293.5 838.7,294.5 840.0,295.5 C841.4,296.6 842.8,297.6 844.1,298.5 C845.5,299.5 846.9,300.5 848.4,301.4 C849.8,302.3 851.2,303.2 852.6,304.1 C854.1,305.0 855.5,305.9 857.0,306.8 C858.5,307.6 859.9,308.5 861.4,309.3 C862.9,310.1 864.4,310.9 865.9,311.7 C867.4,312.5 868.9,313.2 870.4,314.0 C871.9,314.7 873.4,315.5 875.0,316.2 C876.5,316.9 878.0,317.5 879.5,318.2 C881.1,318.9 882.6,319.5 884.2,320.1 C885.7,320.8 887.2,321.4 888.8,322.0 C890.3,322.5 891.9,323.1 893.5,323.7 C895.0,324.2 896.6,324.8 898.2,325.3 C899.7,325.8 901.3,326.3 902.9,326.8 C904.5,327.3 906.0,327.7 907.6,328.2 C909.2,328.7 910.8,329.1 912.4,329.5 C914.0,329.9 915.6,330.3 917.2,330.7 C918.8,331.1 920.4,331.5 922.0,331.9 C923.6,332.2 925.2,332.6 926.8,332.9 C928.5,333.3 930.1,333.6 931.7,333.9 C933.3,334.2 934.9,334.5 936.6,334.8 C938.2,335.1 939.8,335.4 941.5,335.6 C943.1,335.9 944.7,336.1 946.4,336.4 C948.0,336.6 949.7,336.8 951.3,337.0 C953.0,337.3 954.6,337.5 956.3,337.7 C957.9,337.8 959.6,338.0 961.2,338.2 C962.9,338.4 964.5,338.5 966.2,338.7 C967.8,338.9 969.5,339.0 971.2,339.1 C972.8,339.3 974.5,339.4 976.2,339.5 C977.8,339.6 979.5,339.8 981.2,339.9 C982.8,340.0 984.5,340.1 986.2,340.2 C987.9,340.2 989.5,340.3 991.2,340.4 C992.9,340.5 994.6,340.6 996.3,340.6 C997.9,340.7 999.6,340.8 1001.3,340.8 C1003.0,340.9 1004.7,340.9 1006.3,341.0 C1008.0,341.0 1009.7,341.0 1011.4,341.1 C1013.1,341.1 1014.8,341.1 1016.5,341.2 C1018.1,341.2 1019.8,341.2 1021.5,341.2 C1023.2,341.3 1024.9,341.3 1026.6,341.3 C1028.3,341.3 1029.9,341.3 1031.6,341.3 C1033.3,341.3 1035.0,341.4 1036.7,341.4 C1038.4,341.4 1040.1,341.4 1041.8,341.4 C1043.4,341.4 1045.1,341.4 1046.8,341.4 C1048.5,341.4 1050.2,341.4 1051.9,341.4 C1053.6,341.4 1055.2,341.4 1056.9,341.4 C1058.6,341.4 1060.3,341.4 1062.0,341.4 C1063.7,341.4 1065.3,341.4 1067.0,341.4 C1068.7,341.4 1070.4,341.4 1072.1,341.4 C1073.7,341.5 1075.4,341.5 1077.1,341.5 C1078.8,341.5 1080.5,341.5 1082.1,341.5 C1083.8,341.5 1085.5,341.5 1087.2,341.5 C1088.9,341.5 1090.5,341.5 1092.2,341.5 C1093.9,341.5 1095.6,341.5 1097.2,341.5 C1098.9,341.5 1100.6,341.5 1102.3,341.5 C1103.9,341.5 1105.6,341.5 1107.3,341.5 C1109.0,341.5 1110.6,341.5 1112.3,341.5 C1114.0,341.5 1115.7,341.6 1117.3,341.6 C1119.0,341.6 1120.7,341.6 1122.4,341.6 C1124.0,341.6 1125.7,341.6 1127.4,341.6 C1129.1,341.6 1130.7,341.6 1132.4,341.6 C1134.1,341.6 1135.7,341.6 1137.4,341.6 C1139.1,341.6 1140.8,341.6 1142.4,341.6 C1144.1,341.6 1145.8,341.6 1147.4,341.6 C1149.1,341.6 1150.8,341.6 1152.4,341.6 C1154.1,341.6 1155.8,341.6 1157.5,341.6 C1159.1,341.7 1160.8,341.7 1162.5,341.7 C1164.1,341.7 1165.8,341.7 1167.5,341.7 C1169.1,341.7 1170.8,341.7 1172.5,341.7 C1174.1,341.7 1175.8,341.7 1177.5,341.7 C1179.1,341.7 1180.8,341.7 1182.5,341.7 C1184.1,341.7 1185.8,341.7 1187.5,341.7 C1189.2,341.7 1190.8,341.7 1192.5,341.7 C1194.2,341.7 1195.8,341.7 1197.5,341.7 C1199.2,341.7 1200.8,341.7 1202.5,341.7 C1204.2,341.7 1205.8,341.7 1207.5,341.7 C1209.2,341.8 1210.8,341.8 1212.5,341.8 C1214.2,341.8 1215.8,341.8 1217.5,341.8 C1219.2,341.8 1220.8,341.8 1222.5,341.8 C1224.2,341.8 1225.8,341.8 1227.5,341.8 C1229.2,341.8 1230.8,341.8 1232.5,341.8 C1234.2,341.8 1235.8,341.8 1237.5,341.8 C1239.2,341.8 1240.8,341.8 1242.5,341.8 C1244.2,341.8 1245.8,341.8 1247.5,341.8 C1249.2,341.8 1250.8,341.8 1252.5,341.8 C1254.2,341.8 1255.8,341.8 1257.5,341.8 C1259.2,341.8 1260.8,341.8 1262.5,341.8 C1264.2,341.8 1265.8,341.8 1267.5,341.8 C1269.2,341.8 1270.9,341.8 1272.5,341.8 C1274.2,341.8 1275.9,341.8 1277.5,341.8 C1279.2,341.8 1280.9,341.8 1282.5,341.8 C1284.2,341.8 1285.9,341.8 1287.5,341.8 C1289.2,341.8 1290.9,341.8 1292.6,341.8 C1294.2,341.8 1295.9,341.8 1297.6,341.8 C1299.2,341.8 1300.9,341.8 1302.6,341.8 C1304.3,341.8 1305.9,341.8 1307.6,341.8 C1309.3,341.8 1310.9,341.8 1312.6,341.8 C1314.3,341.8 1316.0,341.8 1317.6,341.8 C1319.3,341.8 1321.0,341.8 1322.7,341.8 C1324.3,341.8 1326.0,341.8 1327.7,341.8 C1329.4,341.8 1331.0,341.8 1332.7,341.8 C1334.4,341.8 1336.1,341.8 1337.7,341.8 C1339.4,341.8 1341.1,341.8 1342.8,341.8 C1344.4,341.8 1346.1,341.8 1347.8,341.8 C1349.5,341.8 1351.2,341.8 1352.8,341.8 C1354.5,341.8 1356.2,341.8 1357.9,341.8 C1359.5,341.8 1361.2,341.8 1362.9,341.8 C1364.6,341.8 1366.3,341.8 1368.0,341.8 C1369.6,341.8 1372.2,341.8 1373.0,341.8" stroke="#008000"/>
</g>
<path d="M246.5,133.6H265.0M246.5,341.8H265.0M246.5,550.1H265.0M246.5,758.3H265.0M246.5,237.7H256.3M246.5,445.9H256.3M246.5,654.2H256.3M246.5,862.4H256.3M537.2,966.5V947.8M828.0,966.5V947.8M1118.8,966.5V947.8M391.9,966.5V956.8M682.6,966.5V956.8M973.4,966.5V956.8M1264.1,966.5V956.8" stroke="#000" stroke-width="7" fill="none"/>
<rect x="246.5" y="29.5" width="1163.0" height="937.0" fill="none" stroke="#000" stroke-width="7"/>
<text transform="translate(224.50,152.21) scale(1,1.043)" font-family="Liberation Sans" font-size="60" font-weight="normal" text-anchor="end" fill="#000">0.4</text>
<text transform="translate(224.50,360.43) scale(1,1.043)" font-family="Liberation Sans" font-size="60" font-weight="normal" text-anchor="end" fill="#000">0.0</text>
<text transform="translate(224.50,568.66) scale(1,1.043)" font-family="Liberation Sans" font-size="60" font-weight="normal" text-anchor="end" fill="#000">-0.4</text>
<text transform="translate(224.50,776.88) scale(1,1.043)" font-family="Liberation Sans" font-size="60" font-weight="normal" text-anchor="end" fill="#000">-0.8</text>
<text transform="translate(224.50,985.10) scale(1,1.043)" font-family="Liberation Sans" font-size="60" font-weight="normal" text-anchor="end" fill="#000">-1.2</text>
<text transform="translate(245.50,1033.40) scale(1,1.043)" font-family="Liberation Sans" font-size="60" font-weight="normal" text-anchor="middle" fill="#000">-8</text>
<text transform="translate(536.25,1033.40) scale(1,1.043)" font-family="Liberation Sans" font-size="60" font-weight="normal" text-anchor="middle" fill="#000">-4</text>
<text transform="translate(827.00,1033.40) scale(1,1.043)" font-family="Liberation Sans" font-size="60" font-weight="normal" text-anchor="middle" fill="#000">0</text>
<text transform="translate(1117.75,1033.40) scale(1,1.043)" font-family="Liberation Sans" font-size="60" font-weight="normal" text-anchor="middle" fill="#000">4</text>
<text transform="translate(1408.50,1033.40) scale(1,1.043)" font-family="Liberation Sans" font-size="60" font-weight="normal" text-anchor="middle" fill="#000">8</text>
<text transform="translate(591.30,1149.70) scale(1,1.045)" font-family="Liberation Sans" font-size="80" font-weight="normal" text-anchor="start" fill="#000" letter-spacing="0.2">Position(mm)</text>
<text transform="translate(91.3,827) rotate(-90) scale(1,1.03)" font-family="Liberation Sans" font-size="80">Net Charge(<tspan font-family="Liberation Serif" font-size="82">μ</tspan>C/m)</text>
<line x1="1047.5" y1="585.9" x2="1154.5" y2="585.9" stroke="#0000ff" stroke-width="7" stroke-linecap="round"/>
<text transform="translate(1169,602.4) scale(1,1.03)" font-family="Liberation Sans" font-size="48">h=0.1h<tspan font-size="32" dy="12">0</tspan></text>
<line x1="1047.5" y1="656.4" x2="1154.5" y2="656.4" stroke="#000000" stroke-width="7" stroke-linecap="round"/>
<text transform="translate(1169,672.9) scale(1,1.03)" font-family="Liberation Sans" font-size="48">h=h<tspan font-size="32" dy="12">0</tspan></text>
<line x1="1047.5" y1="726.8" x2="1154.5" y2="726.8" stroke="#ff0000" stroke-width="7" stroke-linecap="round"/>
<text transform="translate(1169,743.3) scale(1,1.03)" font-family="Liberation Sans" font-size="48">h=10h<tspan font-size="32" dy="12">0</tspan></text>
<line x1="1047.5" y1="797.2" x2="1154.5" y2="797.2" stroke="#ff00ff" stroke-width="7" stroke-linecap="round"/>
<text transform="translate(1169,813.8) scale(1,1.03)" font-family="Liberation Sans" font-size="48">h=50h<tspan font-size="32" dy="12">0</tspan></text>
<line x1="1047.5" y1="867.7" x2="1154.5" y2="867.7" stroke="#008000" stroke-width="7" stroke-linecap="round"/>
<text transform="translate(1169,884.2) scale(1,1.03)" font-family="Liberation Sans" font-size="48">h=100h<tspan font-size="32" dy="12">0</tspan></text>
<text font-family="Liberation Serif" font-size="76"><tspan x="833.6" y="1311.3">(</tspan><tspan x="858.2" y="1311.3" font-weight="bold" font-size="73">a</tspan><tspan x="893.5" y="1311.3">)</tspan></text>
<path d="M240.2,1667.0H258.2M240.2,1928.8H258.2M240.2,2190.6H258.2M240.2,1536.1H249.5M240.2,1797.9H249.5M240.2,2059.7H249.5M431.8,2321.5V2304.6M814.9,2321.5V2304.6M1198.0,2321.5V2304.6M623.3,2321.5V2312.0M1006.5,2321.5V2312.0" stroke="#000" stroke-width="6.5" fill="none"/>
<rect x="240.2" y="1405.2" width="1149.4" height="916.3" fill="none" stroke="#000" stroke-width="6.5"/>
<text transform="translate(220.50,1423.20) scale(1,1.010)" font-family="Liberation Sans" font-size="61" font-weight="normal" text-anchor="end" fill="#000">0.15</text>
<text transform="translate(220.50,1685.00) scale(1,1.010)" font-family="Liberation Sans" font-size="61" font-weight="normal" text-anchor="end" fill="#000">0.10</text>
<text transform="translate(220.50,1946.80) scale(1,1.010)" font-family="Liberation Sans" font-size="61" font-weight="normal" text-anchor="end" fill="#000">0.05</text>
<text transform="translate(220.50,2208.60) scale(1,1.010)" font-family="Liberation Sans" font-size="61" font-weight="normal" text-anchor="end" fill="#000">0.00</text>
<text transform="translate(431.77,2390.80) scale(1,1.010)" font-family="Liberation Sans" font-size="61" font-weight="normal" text-anchor="middle" fill="#000">0</text>
<text transform="translate(814.90,2390.80) scale(1,1.010)" font-family="Liberation Sans" font-size="61" font-weight="normal" text-anchor="middle" fill="#000">50</text>
<text transform="translate(1198.03,2390.80) scale(1,1.010)" font-family="Liberation Sans" font-size="61" font-weight="normal" text-anchor="middle" fill="#000">100</text>
<text transform="translate(685.7,2503.9)" font-family="Liberation Sans" font-size="77">h/h<tspan font-size="51" dy="19">0</tspan><tspan dy="-19" dx="6.7">(%)</tspan></text>
<text transform="translate(74,1985.3) rotate(-90) scale(1,1.045)" font-family="Liberation Sans" font-size="78" letter-spacing="0.6">|<tspan font-family="Liberation Serif">Δψ</tspan>|(V)</text>
<text font-family="Liberation Serif" font-size="76"><tspan x="819.8" y="2665">(</tspan><tspan x="844.3" y="2665.7" font-weight="bold" font-size="78">b</tspan><tspan x="888.5" y="2665">)</tspan></text>
<path d="M808.4,1856.8H815.4M1320.9,1856.8H1327.9M808.4,2010.4H815.4M1320.9,2010.4H1327.9M808.4,2163.9H815.4M1320.9,2163.9H1327.9M811.4,1933.6H815.4M1320.9,1933.6H1324.9M811.4,2087.1H815.4M1320.9,2087.1H1324.9M887.6,2240.7V2247.7M887.6,1856.8V1849.8M1032.0,2240.7V2247.7M1032.0,1856.8V1849.8M1176.5,2240.7V2247.7M1176.5,1856.8V1849.8M1320.9,2240.7V2247.7M1320.9,1856.8V1849.8M815.4,2240.7V2244.7M815.4,1856.8V1852.8M959.8,2240.7V2244.7M959.8,1856.8V1852.8M1104.3,2240.7V2244.7M1104.3,1856.8V1852.8M1248.7,2240.7V2244.7M1248.7,1856.8V1852.8" stroke="#222" stroke-width="2" fill="none"/>
<rect x="815.4" y="1856.8" width="505.5" height="383.9" fill="none" stroke="#222" stroke-width="2"/>
<text transform="translate(802.50,1867.00) scale(1,1.010)" font-family="Liberation Sans" font-size="30" font-weight="normal" text-anchor="end" fill="#000">0.02</text>
<text transform="translate(802.50,2020.56) scale(1,1.010)" font-family="Liberation Sans" font-size="30" font-weight="normal" text-anchor="end" fill="#000">0.01</text>
<text transform="translate(802.50,2174.12) scale(1,1.010)" font-family="Liberation Sans" font-size="30" font-weight="normal" text-anchor="end" fill="#000">0.00</text>
<text transform="translate(887.61,2279.00) scale(1,1.010)" font-family="Liberation Sans" font-size="30" font-weight="normal" text-anchor="middle" fill="#000">0.0</text>
<text transform="translate(1032.04,2279.00) scale(1,1.010)" font-family="Liberation Sans" font-size="30" font-weight="normal" text-anchor="middle" fill="#000">0.2</text>
<text transform="translate(1176.47,2279.00) scale(1,1.010)" font-family="Liberation Sans" font-size="30" font-weight="normal" text-anchor="middle" fill="#000">0.4</text>
<text transform="translate(1320.90,2279.00) scale(1,1.010)" font-family="Liberation Sans" font-size="30" font-weight="normal" text-anchor="middle" fill="#000">0.6</text>
<circle cx="894.8" cy="2155.2" r="7.1" fill="#fff" stroke="#0b0bd0" stroke-width="2.6"/>
<circle cx="902.1" cy="2155.2" r="7.1" fill="#fff" stroke="#0b0bd0" stroke-width="2.6"/>
<circle cx="916.5" cy="2155.2" r="7.1" fill="#fff" stroke="#0b0bd0" stroke-width="2.6"/>
<circle cx="923.7" cy="2155.2" r="7.1" fill="#fff" stroke="#0b0bd0" stroke-width="2.6"/>
<circle cx="930.9" cy="2155.2" r="7.1" fill="#fff" stroke="#0b0bd0" stroke-width="2.6"/>
<circle cx="938.2" cy="2155.2" r="7.1" fill="#fff" stroke="#0b0bd0" stroke-width="2.6"/>
<circle cx="945.4" cy="2155.2" r="7.1" fill="#fff" stroke="#0b0bd0" stroke-width="2.6"/>
<circle cx="952.6" cy="2155.2" r="7.1" fill="#fff" stroke="#0b0bd0" stroke-width="2.6"/>
<circle cx="959.8" cy="2155.2" r="7.1" fill="#fff" stroke="#0b0bd0" stroke-width="2.6"/>
<circle cx="909.3" cy="2155.2" r="7.1" fill="#fff" stroke="#0b0bd0" stroke-width="2.6"/>
<circle cx="1032.0" cy="2066.4" r="7.1" fill="#fff" stroke="#0b0bd0" stroke-width="2.6"/>
<circle cx="1104.3" cy="2004.5" r="7.1" fill="#fff" stroke="#0b0bd0" stroke-width="2.6"/>
<circle cx="1176.5" cy="1958.6" r="7.1" fill="#fff" stroke="#0b0bd0" stroke-width="2.6"/>
<circle cx="1248.7" cy="1919.8" r="7.1" fill="#fff" stroke="#0b0bd0" stroke-width="2.6"/>
<rect x="390.4" y="2150.2" width="78.3" height="79.2" fill="none" stroke="#ff0000" stroke-width="6"/>
<circle cx="585.0" cy="1714.7" r="19" fill="#fff" stroke="#0000ff" stroke-width="8"/>
<circle cx="661.6" cy="1657.3" r="19" fill="#fff" stroke="#0000ff" stroke-width="8"/>
<circle cx="738.3" cy="1624.0" r="19" fill="#fff" stroke="#0000ff" stroke-width="8"/>
<circle cx="814.9" cy="1590.7" r="19" fill="#fff" stroke="#0000ff" stroke-width="8"/>
<circle cx="891.5" cy="1561.0" r="19" fill="#fff" stroke="#0000ff" stroke-width="8"/>
<circle cx="968.2" cy="1539.4" r="19" fill="#fff" stroke="#0000ff" stroke-width="8"/>
<circle cx="1044.8" cy="1524.0" r="19" fill="#fff" stroke="#0000ff" stroke-width="8"/>
<circle cx="1121.4" cy="1512.8" r="19" fill="#fff" stroke="#0000ff" stroke-width="8"/>
<circle cx="1198.0" cy="1495.9" r="19" fill="#fff" stroke="#0000ff" stroke-width="8"/>
<circle cx="508.4" cy="1805.1" r="19" fill="#fff" stroke="#0000ff" stroke-width="8"/>
<circle cx="500.7" cy="1823.3" r="19" fill="#fff" stroke="#0000ff" stroke-width="8"/>
<circle cx="493.1" cy="1843.2" r="19" fill="#fff" stroke="#0000ff" stroke-width="8"/>
<circle cx="485.4" cy="1860.7" r="19" fill="#fff" stroke="#0000ff" stroke-width="8"/>
<circle cx="477.7" cy="1877.7" r="19" fill="#fff" stroke="#0000ff" stroke-width="8"/>
<circle cx="470.1" cy="1898.8" r="19" fill="#fff" stroke="#0000ff" stroke-width="8"/>
<circle cx="462.4" cy="1919.3" r="19" fill="#fff" stroke="#0000ff" stroke-width="8"/>
<circle cx="454.8" cy="1950.3" r="19" fill="#fff" stroke="#0000ff" stroke-width="8"/>
<circle cx="447.1" cy="1995.4" r="19" fill="#fff" stroke="#0000ff" stroke-width="8"/>
<circle cx="432.8" cy="2156.5" r="19" fill="#fff" stroke="#0000ff" stroke-width="8"/>
<circle cx="434.0" cy="2120.8" r="19" fill="#fff" stroke="#0000ff" stroke-width="8"/>
<circle cx="435.5" cy="2107.5" r="19" fill="#fff" stroke="#0000ff" stroke-width="8"/>
<circle cx="436.5" cy="2100.4" r="19" fill="#fff" stroke="#0000ff" stroke-width="8"/>
<circle cx="437.0" cy="2094.3" r="19" fill="#fff" stroke="#0000ff" stroke-width="8"/>
<circle cx="437.3" cy="2084.4" r="19" fill="#fff" stroke="#0000ff" stroke-width="8"/>
<circle cx="437.8" cy="2075.0" r="19" fill="#fff" stroke="#0000ff" stroke-width="8"/>
<circle cx="438.4" cy="2058.3" r="19" fill="#fff" stroke="#0000ff" stroke-width="8"/>
<circle cx="438.4" cy="2066.0" r="19" fill="#fff" stroke="#0000ff" stroke-width="8"/>
<circle cx="433.6" cy="2136.6" r="19" fill="#fff" stroke="#0000ff" stroke-width="8"/>
<circle cx="432.0" cy="2188.0" r="19" fill="#fff" stroke="#0000ff" stroke-width="8"/>
</svg>
</body></html>
